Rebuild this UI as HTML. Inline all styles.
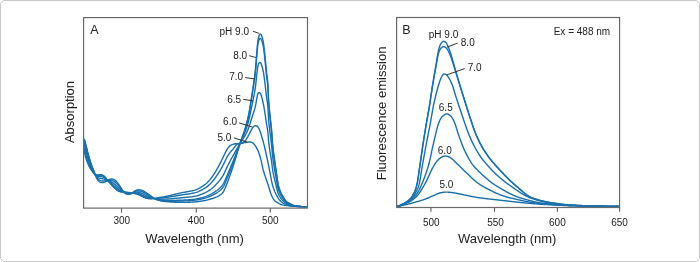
<!DOCTYPE html>
<html><head><meta charset="utf-8"><style>
html,body{margin:0;padding:0;background:#fff;}
body{width:700px;height:262px;overflow:hidden;font-family:"Liberation Sans",sans-serif;}
svg{display:block;will-change:transform;}
</style></head><body>
<svg width="700" height="262" viewBox="0 0 700 262">
<path d="M3.5 0.5 H696.5 L699.5 3.5 V258.5 L696.5 261.5 H3.5 L0.5 258.5 V3.5 Z" fill="#fff" stroke="#c9c9c9" stroke-width="1"/>
<g fill="none" stroke="#1870ac" stroke-width="1.4" stroke-linejoin="round">
<path d="M84.05 150.23 L84.17 150.81 L84.34 151.56 L84.51 152.35 L84.69 153.13 L84.86 153.91 L85.04 154.68 L85.23 155.46 L85.41 156.24 L85.61 157.02 L85.81 157.79 L86.03 158.56 L86.27 159.32 L86.51 160.09 L86.77 160.84 L87.04 161.60 L87.32 162.34 L87.62 163.09 L87.93 163.82 L88.25 164.56 L88.59 165.28 L88.94 166.00 L89.30 166.72 L89.68 167.42 L90.08 168.11 L90.50 168.79 L90.94 169.46 L91.39 170.12 L91.84 170.78 L92.30 171.44 L92.76 172.09 L93.23 172.74 L93.73 173.36 L94.28 173.94 L94.82 174.49 L95.25 175.14 L95.58 175.86 L95.91 176.59 L96.24 177.32 L96.59 178.04 L96.95 178.75 L97.33 179.46 L97.75 180.13 L98.25 180.75 L98.82 181.30 L99.45 181.79 L100.14 182.20 L100.87 182.50 L101.64 182.66 L102.43 182.67 L103.22 182.54 L103.98 182.31 L104.72 182.02 L105.44 181.67 L106.15 181.29 L106.83 180.89 L107.52 180.48 L108.22 180.10 L108.94 179.75 L109.68 179.43 L110.43 179.17 L111.20 179.00 L111.99 178.96 L112.78 179.08 L113.53 179.32 L114.24 179.67 L114.92 180.10 L115.55 180.59 L116.13 181.13 L116.68 181.72 L117.19 182.33 L117.69 182.95 L118.17 183.59 L118.64 184.24 L119.10 184.89 L119.55 185.56 L119.99 186.23 L120.41 186.90 L120.83 187.59 L121.25 188.27 L121.67 188.95 L122.08 189.63 L122.51 190.31 L122.95 190.98 L123.42 191.62 L123.96 192.21 L124.55 192.74 L125.17 193.24 L125.83 193.69 L126.53 194.06 L127.29 194.31 L128.07 194.41 L128.86 194.38 L129.65 194.24 L130.41 194.00 L131.14 193.68 L131.84 193.30 L132.50 192.85 L133.13 192.36 L133.75 191.85 L134.38 191.37 L135.05 190.93 L135.75 190.56 L136.49 190.25 L137.25 190.01 L138.03 189.85 L138.82 189.79 L139.62 189.82 L140.41 189.93 L141.19 190.10 L141.95 190.34 L142.70 190.63 L143.41 190.98 L144.11 191.37 L144.79 191.79 L145.47 192.22 L146.14 192.65 L146.81 193.08 L147.48 193.53 L148.13 193.98 L148.79 194.45 L149.44 194.92 L150.08 195.39 L150.72 195.87 L151.36 196.35 L152.00 196.83 L152.63 197.32 L153.27 197.79 L153.94 198.19 L154.68 198.33 L155.46 198.24 L156.25 198.10 L157.03 197.94 L157.82 197.80 L158.60 197.65 L159.39 197.51 L160.18 197.37 L160.97 197.24 L161.76 197.12 L162.55 197.00 L163.34 196.88 L164.13 196.75 L164.92 196.61 L165.70 196.46 L166.49 196.30 L167.27 196.13 L168.05 195.96 L168.83 195.78 L169.61 195.60 L170.39 195.42 L171.17 195.23 L171.94 195.04 L172.72 194.85 L173.50 194.66 L174.28 194.47 L175.05 194.28 L175.83 194.09 L176.61 193.90 L177.38 193.71 L178.16 193.53 L178.94 193.34 L179.72 193.16 L180.50 192.99 L181.28 192.83 L182.07 192.67 L182.85 192.51 L183.64 192.37 L184.43 192.22 L185.21 192.08 L186.00 191.94 L186.79 191.80 L187.58 191.66 L188.36 191.52 L189.15 191.37 L189.94 191.22 L190.72 191.07 L191.51 190.91 L192.29 190.75 L193.07 190.57 L193.85 190.39 L194.62 190.19 L195.39 189.97 L196.15 189.72 L196.89 189.42 L197.62 189.09 L198.33 188.73 L199.04 188.35 L199.73 187.95 L200.41 187.53 L201.09 187.11 L201.76 186.67 L202.43 186.23 L203.10 185.79 L203.76 185.35 L204.43 184.91 L205.08 184.44 L205.71 183.95 L206.32 183.44 L206.92 182.90 L207.50 182.35 L208.07 181.79 L208.62 181.21 L209.17 180.63 L209.70 180.03 L210.22 179.43 L210.73 178.81 L211.23 178.18 L211.71 177.54 L212.18 176.89 L212.63 176.24 L213.08 175.57 L213.52 174.90 L213.95 174.23 L214.37 173.55 L214.79 172.87 L215.21 172.19 L215.61 171.50 L216.02 170.81 L216.42 170.12 L216.82 169.42 L217.21 168.73 L217.61 168.03 L218.00 167.33 L218.39 166.63 L218.78 165.94 L219.17 165.24 L219.55 164.53 L219.92 163.83 L220.29 163.11 L220.64 162.40 L220.99 161.68 L221.34 160.96 L221.68 160.23 L222.02 159.51 L222.36 158.79 L222.70 158.06 L223.05 157.34 L223.40 156.62 L223.75 155.90 L224.11 155.19 L224.47 154.47 L224.82 153.75 L225.17 153.04 L225.52 152.32 L225.88 151.60 L226.24 150.89 L226.61 150.18 L227.01 149.48 L227.43 148.81 L227.90 148.16 L228.40 147.54 L228.93 146.94 L229.49 146.36 L230.07 145.82 L230.69 145.32 L231.37 144.91 L232.10 144.59 L232.86 144.35 L233.64 144.14 L234.41 143.96 L235.20 143.81 L235.99 143.72 L236.79 143.66 L237.59 143.63 L238.39 143.61 L239.19 143.57 L239.98 143.49 L240.78 143.38 L241.56 143.25 L242.35 143.10 L243.14 142.95 L243.92 142.80 L244.71 142.65 L245.50 142.51 L246.28 142.38 L247.07 142.24 L247.86 142.12 L248.65 142.01 L249.45 141.94 L250.24 141.97 L251.01 142.14 L251.76 142.42 L252.48 142.76 L253.16 143.17 L253.75 143.70 L254.26 144.31 L254.74 144.95 L255.20 145.60 L255.65 146.26 L256.07 146.95 L256.46 147.64 L256.84 148.34 L257.21 149.06 L257.56 149.77 L257.90 150.50 L258.22 151.23 L258.52 151.97 L258.80 152.72 L259.07 153.48 L259.32 154.23 L259.56 155.00 L259.80 155.76 L260.03 156.53 L260.25 157.30 L260.47 158.07 L260.68 158.84 L260.89 159.61 L261.09 160.38 L261.28 161.16 L261.46 161.94 L261.63 162.72 L261.79 163.51 L261.95 164.29 L262.11 165.07 L262.27 165.86 L262.43 166.64 L262.60 167.42 L262.77 168.20 L262.95 168.98 L263.15 169.76 L263.36 170.53 L263.58 171.30 L263.80 172.07 L264.04 172.83 L264.28 173.59 L264.52 174.36 L264.77 175.12 L265.03 175.87 L265.29 176.63 L265.55 177.39 L265.82 178.14 L266.08 178.90 L266.35 179.65 L266.62 180.40 L266.89 181.16 L267.15 181.91 L267.41 182.67 L267.67 183.42 L267.93 184.18 L268.18 184.94 L268.42 185.71 L268.66 186.47 L268.89 187.24 L269.12 188.00 L269.34 188.77 L269.57 189.54 L269.80 190.30 L270.03 191.07 L270.27 191.83 L270.51 192.59 L270.77 193.35 L271.05 194.10 L271.35 194.84 L271.66 195.58 L271.99 196.31 L272.34 197.03 L272.69 197.75 L273.07 198.45 L273.47 199.14 L273.91 199.80 L274.42 200.42 L275.00 200.96 L275.65 201.43 L276.31 201.88 L276.98 202.31 L277.66 202.74 L278.34 203.15 L279.04 203.54 L279.75 203.91 L280.48 204.24 L281.22 204.53 L281.98 204.77 L282.76 204.94 L283.55 205.08 L284.34 205.20 L285.13 205.31 L285.92 205.43 L286.72 205.55 L287.51 205.66 L288.30 205.77 L289.09 205.88 L289.89 205.98 L290.68 206.07 L291.48 206.15 L292.27 206.23 L293.07 206.29 L293.87 206.34 L294.67 206.38 L295.47 206.41 L296.27 206.44 L297.07 206.47 L297.87 206.49 L298.67 206.52 L299.47 206.54 L300.27 206.56 L301.07 206.58 L301.86 206.60 L302.66 206.62 L303.46 206.63 L304.26 206.63 L305.06 206.64 L305.86 206.63 L306.64 206.63 L307.23 206.62"/>
<path d="M84.09 147.80 L84.21 148.31 L84.38 148.99 L84.56 149.75 L84.75 150.52 L84.93 151.30 L85.12 152.08 L85.31 152.86 L85.50 153.63 L85.70 154.41 L85.91 155.18 L86.12 155.95 L86.35 156.72 L86.59 157.48 L86.83 158.25 L87.08 159.01 L87.33 159.76 L87.60 160.52 L87.87 161.27 L88.16 162.02 L88.45 162.76 L88.75 163.50 L89.06 164.24 L89.39 164.97 L89.72 165.70 L90.07 166.42 L90.43 167.13 L90.80 167.84 L91.18 168.54 L91.58 169.24 L91.97 169.93 L92.38 170.62 L92.79 171.31 L93.21 171.99 L93.65 172.66 L94.10 173.32 L94.56 173.97 L95.00 174.63 L95.41 175.32 L95.81 176.01 L96.21 176.70 L96.63 177.38 L97.07 178.05 L97.55 178.67 L98.10 179.24 L98.73 179.72 L99.41 180.12 L100.13 180.44 L100.88 180.69 L101.66 180.85 L102.45 180.93 L103.24 180.93 L104.04 180.89 L104.84 180.82 L105.63 180.73 L106.42 180.61 L107.21 180.49 L108.00 180.37 L108.80 180.27 L109.59 180.21 L110.39 180.20 L111.17 180.27 L111.95 180.43 L112.69 180.69 L113.41 181.03 L114.10 181.43 L114.76 181.88 L115.39 182.37 L115.99 182.89 L116.56 183.45 L117.11 184.03 L117.64 184.63 L118.16 185.23 L118.68 185.84 L119.19 186.45 L119.70 187.08 L120.19 187.70 L120.68 188.34 L121.17 188.97 L121.66 189.60 L122.16 190.23 L122.67 190.84 L123.22 191.42 L123.80 191.96 L124.43 192.45 L125.09 192.89 L125.78 193.28 L126.51 193.59 L127.26 193.81 L128.04 193.93 L128.84 193.94 L129.63 193.87 L130.41 193.73 L131.17 193.51 L131.91 193.22 L132.62 192.87 L133.31 192.47 L134.00 192.07 L134.71 191.71 L135.44 191.40 L136.20 191.17 L136.98 191.01 L137.77 190.93 L138.56 190.92 L139.35 191.00 L140.14 191.14 L140.91 191.34 L141.67 191.59 L142.41 191.88 L143.14 192.21 L143.85 192.57 L144.55 192.96 L145.24 193.35 L145.94 193.75 L146.63 194.14 L147.33 194.54 L148.02 194.94 L148.72 195.34 L149.41 195.74 L150.10 196.14 L150.79 196.54 L151.48 196.94 L152.18 197.34 L152.87 197.73 L153.59 198.06 L154.33 198.29 L155.10 198.38 L155.89 198.39 L156.69 198.35 L157.48 198.30 L158.28 198.25 L159.08 198.19 L159.88 198.13 L160.68 198.07 L161.47 198.01 L162.27 197.95 L163.07 197.89 L163.86 197.82 L164.66 197.73 L165.45 197.64 L166.25 197.53 L167.04 197.42 L167.83 197.30 L168.62 197.18 L169.41 197.05 L170.20 196.92 L170.99 196.78 L171.78 196.65 L172.56 196.51 L173.35 196.37 L174.14 196.23 L174.93 196.08 L175.71 195.94 L176.50 195.80 L177.29 195.66 L178.08 195.52 L178.86 195.38 L179.65 195.24 L180.44 195.11 L181.23 194.98 L182.02 194.86 L182.81 194.74 L183.60 194.63 L184.40 194.52 L185.19 194.40 L185.98 194.29 L186.77 194.18 L187.56 194.06 L188.36 193.95 L189.15 193.82 L189.94 193.70 L190.73 193.57 L191.51 193.43 L192.30 193.29 L193.09 193.14 L193.87 192.98 L194.65 192.81 L195.43 192.62 L196.20 192.40 L196.96 192.15 L197.70 191.87 L198.44 191.56 L199.17 191.23 L199.89 190.88 L200.60 190.52 L201.31 190.15 L202.02 189.77 L202.72 189.39 L203.42 189.00 L204.11 188.61 L204.80 188.20 L205.48 187.78 L206.14 187.33 L206.78 186.85 L207.41 186.36 L208.03 185.85 L208.63 185.33 L209.23 184.79 L209.81 184.25 L210.38 183.69 L210.94 183.12 L211.49 182.53 L212.02 181.93 L212.54 181.32 L213.04 180.71 L213.54 180.08 L214.03 179.45 L214.52 178.81 L214.99 178.17 L215.46 177.52 L215.93 176.87 L216.39 176.21 L216.84 175.56 L217.29 174.90 L217.74 174.23 L218.18 173.57 L218.62 172.90 L219.06 172.23 L219.49 171.55 L219.91 170.87 L220.32 170.18 L220.72 169.49 L221.11 168.80 L221.50 168.10 L221.88 167.39 L222.26 166.69 L222.64 165.98 L223.01 165.27 L223.38 164.56 L223.74 163.85 L224.09 163.13 L224.45 162.42 L224.79 161.70 L225.14 160.97 L225.48 160.25 L225.82 159.53 L226.17 158.81 L226.52 158.09 L226.89 157.38 L227.27 156.68 L227.67 155.98 L228.09 155.30 L228.53 154.63 L228.98 153.97 L229.43 153.31 L229.90 152.67 L230.39 152.03 L230.90 151.42 L231.43 150.82 L231.97 150.23 L232.52 149.65 L233.04 149.05 L233.55 148.43 L234.04 147.80 L234.52 147.16 L235.02 146.53 L235.53 145.92 L236.07 145.34 L236.66 144.81 L237.31 144.36 L238.01 143.99 L238.75 143.72 L239.52 143.51 L240.29 143.31 L241.06 143.10 L241.82 142.86 L242.57 142.58 L243.30 142.26 L243.99 141.88 L244.63 141.42 L245.20 140.88 L245.70 140.26 L246.13 139.60 L246.54 138.91 L246.93 138.22 L247.32 137.52 L247.71 136.82 L248.09 136.12 L248.47 135.41 L248.84 134.70 L249.20 133.99 L249.57 133.28 L249.94 132.57 L250.31 131.86 L250.69 131.15 L251.06 130.45 L251.44 129.74 L251.83 129.05 L252.25 128.36 L252.69 127.70 L253.18 127.08 L253.73 126.50 L254.34 126.02 L255.01 125.70 L255.73 125.59 L256.45 125.74 L257.11 126.09 L257.70 126.59 L258.19 127.20 L258.60 127.87 L258.96 128.59 L259.29 129.31 L259.60 130.05 L259.89 130.79 L260.16 131.54 L260.42 132.30 L260.67 133.06 L260.91 133.83 L261.14 134.59 L261.37 135.36 L261.59 136.13 L261.82 136.89 L262.05 137.66 L262.28 138.43 L262.50 139.19 L262.72 139.96 L262.95 140.73 L263.16 141.50 L263.38 142.27 L263.58 143.04 L263.79 143.82 L263.99 144.59 L264.19 145.37 L264.38 146.14 L264.57 146.92 L264.75 147.70 L264.93 148.48 L265.11 149.26 L265.28 150.04 L265.46 150.82 L265.63 151.60 L265.80 152.38 L265.97 153.17 L266.14 153.95 L266.31 154.73 L266.48 155.51 L266.65 156.29 L266.82 157.08 L266.98 157.86 L267.15 158.64 L267.32 159.42 L267.48 160.21 L267.65 160.99 L267.81 161.77 L267.97 162.56 L268.13 163.34 L268.30 164.12 L268.46 164.91 L268.62 165.69 L268.78 166.47 L268.94 167.26 L269.10 168.04 L269.26 168.82 L269.42 169.61 L269.57 170.39 L269.73 171.18 L269.88 171.96 L270.03 172.75 L270.18 173.54 L270.32 174.32 L270.47 175.11 L270.61 175.90 L270.75 176.68 L270.90 177.47 L271.05 178.26 L271.19 179.04 L271.35 179.83 L271.50 180.61 L271.66 181.40 L271.83 182.18 L272.00 182.96 L272.19 183.74 L272.39 184.51 L272.60 185.28 L272.82 186.05 L273.06 186.82 L273.30 187.58 L273.55 188.34 L273.82 189.09 L274.09 189.84 L274.38 190.59 L274.67 191.33 L274.98 192.07 L275.31 192.80 L275.65 193.52 L276.01 194.24 L276.38 194.95 L276.76 195.65 L277.15 196.35 L277.54 197.05 L277.94 197.74 L278.36 198.42 L278.80 199.09 L279.28 199.72 L279.80 200.32 L280.37 200.88 L280.96 201.42 L281.58 201.93 L282.21 202.41 L282.86 202.87 L283.54 203.29 L284.25 203.65 L284.99 203.95 L285.74 204.21 L286.51 204.44 L287.27 204.67 L288.04 204.89 L288.81 205.10 L289.59 205.31 L290.36 205.51 L291.14 205.69 L291.92 205.85 L292.71 205.99 L293.50 206.12 L294.29 206.22 L295.09 206.30 L295.89 206.36 L296.68 206.42 L297.48 206.47 L298.28 206.52 L299.08 206.56 L299.88 206.60 L300.68 206.63 L301.48 206.66 L302.28 206.68 L303.08 206.70 L303.88 206.70 L304.68 206.70 L305.47 206.69 L306.22 206.67 L306.85 206.65"/>
<path d="M84.11 144.40 L84.24 144.91 L84.43 145.59 L84.63 146.34 L84.83 147.11 L85.03 147.88 L85.23 148.66 L85.42 149.44 L85.62 150.21 L85.81 150.99 L86.02 151.76 L86.23 152.53 L86.44 153.30 L86.66 154.07 L86.88 154.84 L87.11 155.61 L87.33 156.38 L87.57 157.14 L87.81 157.91 L88.05 158.67 L88.30 159.43 L88.56 160.18 L88.82 160.94 L89.09 161.69 L89.37 162.44 L89.65 163.19 L89.94 163.94 L90.24 164.68 L90.55 165.42 L90.87 166.15 L91.19 166.88 L91.52 167.61 L91.86 168.34 L92.20 169.06 L92.56 169.77 L92.92 170.49 L93.29 171.20 L93.66 171.91 L94.03 172.62 L94.40 173.32 L94.79 174.02 L95.21 174.69 L95.68 175.34 L96.19 175.95 L96.73 176.54 L97.32 177.07 L97.96 177.50 L98.67 177.83 L99.43 178.07 L100.20 178.26 L100.98 178.43 L101.76 178.59 L102.55 178.75 L103.33 178.93 L104.10 179.14 L104.86 179.37 L105.62 179.64 L106.36 179.92 L107.11 180.20 L107.86 180.49 L108.61 180.77 L109.36 181.05 L110.10 181.35 L110.83 181.67 L111.54 182.03 L112.23 182.44 L112.89 182.88 L113.54 183.34 L114.18 183.83 L114.80 184.33 L115.42 184.84 L116.02 185.36 L116.61 185.90 L117.19 186.45 L117.78 187.00 L118.36 187.54 L118.95 188.08 L119.55 188.62 L120.14 189.15 L120.74 189.68 L121.35 190.21 L121.97 190.71 L122.61 191.19 L123.27 191.62 L123.96 192.02 L124.67 192.39 L125.40 192.71 L126.15 192.98 L126.92 193.19 L127.70 193.34 L128.49 193.42 L129.29 193.46 L130.09 193.45 L130.88 193.39 L131.67 193.28 L132.44 193.09 L133.20 192.86 L133.96 192.60 L134.72 192.39 L135.50 192.24 L136.29 192.17 L137.09 192.17 L137.88 192.23 L138.67 192.36 L139.44 192.54 L140.21 192.77 L140.96 193.03 L141.71 193.32 L142.44 193.64 L143.17 193.97 L143.88 194.33 L144.59 194.70 L145.31 195.06 L146.03 195.40 L146.75 195.73 L147.49 196.05 L148.23 196.36 L148.97 196.66 L149.71 196.95 L150.46 197.23 L151.21 197.50 L151.97 197.77 L152.73 198.02 L153.49 198.25 L154.27 198.44 L155.05 198.58 L155.84 198.70 L156.64 198.79 L157.43 198.87 L158.23 198.94 L159.03 199.00 L159.83 199.05 L160.62 199.09 L161.42 199.12 L162.22 199.14 L163.02 199.16 L163.82 199.16 L164.62 199.15 L165.42 199.12 L166.22 199.08 L167.02 199.04 L167.82 198.99 L168.62 198.94 L169.41 198.88 L170.21 198.83 L171.01 198.76 L171.81 198.70 L172.60 198.63 L173.40 198.56 L174.20 198.48 L174.99 198.40 L175.79 198.32 L176.59 198.24 L177.38 198.17 L178.18 198.09 L178.97 198.01 L179.77 197.93 L180.57 197.86 L181.36 197.78 L182.16 197.71 L182.96 197.64 L183.75 197.57 L184.55 197.50 L185.35 197.43 L186.14 197.36 L186.94 197.28 L187.74 197.20 L188.53 197.11 L189.33 197.02 L190.12 196.92 L190.91 196.82 L191.71 196.72 L192.50 196.60 L193.29 196.49 L194.08 196.37 L194.87 196.23 L195.66 196.08 L196.44 195.91 L197.21 195.72 L197.98 195.50 L198.74 195.26 L199.50 195.01 L200.25 194.74 L201.00 194.45 L201.75 194.16 L202.49 193.86 L203.23 193.56 L203.97 193.25 L204.70 192.94 L205.43 192.60 L206.14 192.24 L206.84 191.86 L207.53 191.45 L208.21 191.03 L208.88 190.59 L209.54 190.14 L210.20 189.68 L210.84 189.21 L211.47 188.72 L212.09 188.21 L212.70 187.69 L213.29 187.16 L213.88 186.61 L214.46 186.06 L215.03 185.51 L215.60 184.94 L216.16 184.37 L216.71 183.79 L217.26 183.21 L217.79 182.61 L218.32 182.01 L218.84 181.40 L219.35 180.79 L219.85 180.16 L220.34 179.53 L220.81 178.88 L221.27 178.23 L221.73 177.57 L222.17 176.91 L222.60 176.23 L223.02 175.55 L223.41 174.85 L223.78 174.15 L224.14 173.43 L224.49 172.71 L224.82 171.98 L225.15 171.26 L225.48 170.53 L225.81 169.79 L226.13 169.07 L226.47 168.34 L226.80 167.61 L227.15 166.89 L227.50 166.17 L227.85 165.45 L228.21 164.74 L228.57 164.03 L228.94 163.31 L229.30 162.60 L229.67 161.89 L230.04 161.18 L230.41 160.47 L230.78 159.77 L231.17 159.06 L231.56 158.36 L231.95 157.67 L232.35 156.98 L232.75 156.28 L233.15 155.59 L233.56 154.90 L233.95 154.21 L234.35 153.51 L234.74 152.81 L235.13 152.11 L235.52 151.41 L235.91 150.71 L236.29 150.01 L236.68 149.32 L237.07 148.62 L237.46 147.92 L237.85 147.22 L238.25 146.53 L238.65 145.83 L239.04 145.14 L239.45 144.45 L239.85 143.76 L240.27 143.07 L240.69 142.39 L241.12 141.72 L241.55 141.04 L241.99 140.37 L242.43 139.71 L242.86 139.04 L243.30 138.36 L243.72 137.69 L244.14 137.00 L244.55 136.32 L244.95 135.62 L245.33 134.92 L245.71 134.22 L246.08 133.51 L246.44 132.79 L246.79 132.07 L247.13 131.35 L247.46 130.62 L247.79 129.89 L248.10 129.16 L248.40 128.42 L248.69 127.67 L248.97 126.92 L249.23 126.16 L249.48 125.40 L249.73 124.64 L249.96 123.88 L250.20 123.11 L250.44 122.35 L250.67 121.59 L250.91 120.82 L251.16 120.06 L251.40 119.30 L251.65 118.54 L251.89 117.78 L252.13 117.01 L252.37 116.25 L252.61 115.49 L252.85 114.72 L253.09 113.96 L253.34 113.20 L253.58 112.44 L253.83 111.68 L254.08 110.92 L254.33 110.16 L254.57 109.39 L254.80 108.63 L255.01 107.86 L255.21 107.08 L255.40 106.30 L255.56 105.52 L255.71 104.74 L255.86 103.95 L255.99 103.16 L256.13 102.37 L256.26 101.58 L256.39 100.80 L256.53 100.01 L256.67 99.22 L256.81 98.43 L256.95 97.65 L257.10 96.86 L257.25 96.07 L257.42 95.29 L257.62 94.52 L257.88 93.79 L258.24 93.14 L258.73 92.70 L259.31 92.59 L259.86 92.85 L260.32 93.39 L260.69 94.07 L261.00 94.80 L261.26 95.55 L261.50 96.32 L261.72 97.09 L261.93 97.86 L262.12 98.63 L262.31 99.41 L262.50 100.19 L262.69 100.97 L262.87 101.74 L263.05 102.52 L263.22 103.31 L263.38 104.09 L263.54 104.87 L263.69 105.66 L263.83 106.45 L263.97 107.23 L264.11 108.02 L264.24 108.81 L264.37 109.60 L264.50 110.39 L264.63 111.18 L264.76 111.97 L264.88 112.76 L265.01 113.55 L265.13 114.34 L265.24 115.13 L265.36 115.92 L265.47 116.72 L265.58 117.51 L265.70 118.30 L265.81 119.09 L265.92 119.88 L266.03 120.68 L266.15 121.47 L266.27 122.26 L266.39 123.05 L266.52 123.84 L266.65 124.63 L266.80 125.41 L266.94 126.20 L267.09 126.99 L267.23 127.77 L267.37 128.56 L267.50 129.35 L267.63 130.14 L267.74 130.93 L267.85 131.72 L267.95 132.52 L268.03 133.31 L268.09 134.11 L268.15 134.91 L268.20 135.71 L268.25 136.51 L268.30 137.30 L268.36 138.10 L268.41 138.90 L268.47 139.70 L268.54 140.49 L268.62 141.29 L268.71 142.09 L268.80 142.88 L268.89 143.68 L268.98 144.47 L269.09 145.26 L269.19 146.06 L269.31 146.85 L269.42 147.64 L269.54 148.43 L269.66 149.22 L269.78 150.01 L269.90 150.80 L270.02 151.59 L270.14 152.38 L270.27 153.17 L270.40 153.96 L270.52 154.75 L270.65 155.54 L270.78 156.33 L270.92 157.12 L271.04 157.91 L271.17 158.70 L271.30 159.49 L271.42 160.28 L271.53 161.07 L271.64 161.87 L271.75 162.66 L271.85 163.45 L271.95 164.25 L272.04 165.04 L272.14 165.84 L272.23 166.63 L272.32 167.42 L272.42 168.22 L272.53 169.01 L272.64 169.80 L272.77 170.59 L272.89 171.38 L273.03 172.17 L273.18 172.96 L273.33 173.74 L273.49 174.53 L273.65 175.31 L273.82 176.09 L273.99 176.87 L274.17 177.65 L274.35 178.43 L274.53 179.21 L274.71 179.99 L274.90 180.77 L275.09 181.55 L275.28 182.32 L275.47 183.10 L275.66 183.88 L275.86 184.65 L276.05 185.43 L276.25 186.20 L276.44 186.98 L276.63 187.76 L276.82 188.53 L277.01 189.31 L277.21 190.09 L277.41 190.86 L277.63 191.63 L277.86 192.39 L278.13 193.15 L278.42 193.89 L278.74 194.62 L279.08 195.34 L279.45 196.05 L279.84 196.75 L280.26 197.43 L280.71 198.09 L281.19 198.73 L281.70 199.34 L282.25 199.92 L282.82 200.48 L283.40 201.04 L283.98 201.58 L284.59 202.10 L285.21 202.60 L285.87 203.05 L286.55 203.45 L287.27 203.79 L288.01 204.09 L288.76 204.37 L289.51 204.64 L290.27 204.90 L291.03 205.15 L291.80 205.38 L292.57 205.58 L293.35 205.77 L294.13 205.93 L294.92 206.06 L295.71 206.16 L296.51 206.25 L297.30 206.32 L298.10 206.38 L298.90 206.45 L299.70 206.50 L300.49 206.55 L301.29 206.60 L302.09 206.64 L302.89 206.67 L303.69 206.69 L304.49 206.70 L305.29 206.69 L306.05 206.68 L306.72 206.66"/>
<path d="M84.12 141.52 L84.27 142.02 L84.48 142.70 L84.70 143.44 L84.91 144.21 L85.12 144.98 L85.32 145.76 L85.51 146.53 L85.71 147.31 L85.90 148.09 L86.10 148.86 L86.30 149.64 L86.51 150.41 L86.71 151.18 L86.92 151.96 L87.13 152.73 L87.33 153.50 L87.54 154.27 L87.76 155.04 L87.98 155.81 L88.20 156.58 L88.43 157.35 L88.66 158.11 L88.90 158.88 L89.14 159.64 L89.39 160.40 L89.64 161.16 L89.90 161.92 L90.16 162.67 L90.43 163.43 L90.70 164.18 L90.98 164.93 L91.27 165.67 L91.56 166.42 L91.86 167.16 L92.17 167.90 L92.48 168.63 L92.81 169.36 L93.14 170.09 L93.47 170.82 L93.79 171.55 L94.11 172.29 L94.42 173.02 L94.76 173.73 L95.18 174.39 L95.70 174.95 L96.32 175.43 L96.99 175.82 L97.72 176.10 L98.48 176.26 L99.27 176.32 L100.06 176.38 L100.85 176.48 L101.63 176.63 L102.40 176.85 L103.14 177.14 L103.85 177.49 L104.53 177.91 L105.18 178.37 L105.81 178.86 L106.42 179.37 L107.03 179.89 L107.64 180.40 L108.27 180.90 L108.90 181.40 L109.53 181.88 L110.16 182.37 L110.79 182.87 L111.41 183.37 L112.02 183.89 L112.62 184.42 L113.21 184.96 L113.81 185.49 L114.40 186.03 L115.00 186.55 L115.61 187.08 L116.22 187.60 L116.83 188.12 L117.45 188.62 L118.08 189.10 L118.74 189.56 L119.41 189.99 L120.10 190.40 L120.80 190.78 L121.52 191.13 L122.25 191.43 L123.01 191.69 L123.77 191.92 L124.54 192.15 L125.30 192.38 L126.08 192.57 L126.86 192.74 L127.65 192.86 L128.44 192.97 L129.23 193.07 L130.03 193.15 L130.82 193.22 L131.62 193.24 L132.41 193.21 L133.21 193.13 L134.00 193.03 L134.79 192.96 L135.58 192.97 L136.38 193.04 L137.16 193.17 L137.94 193.35 L138.70 193.58 L139.46 193.84 L140.20 194.14 L140.94 194.45 L141.67 194.77 L142.40 195.10 L143.12 195.44 L143.84 195.79 L144.56 196.13 L145.29 196.46 L146.03 196.76 L146.78 197.03 L147.55 197.27 L148.31 197.49 L149.09 197.69 L149.87 197.86 L150.66 198.01 L151.44 198.15 L152.23 198.27 L153.03 198.38 L153.81 198.50 L154.60 198.65 L155.38 198.84 L156.15 199.04 L156.92 199.23 L157.70 199.42 L158.48 199.58 L159.27 199.73 L160.06 199.86 L160.85 199.97 L161.64 200.08 L162.44 200.17 L163.23 200.25 L164.03 200.31 L164.83 200.35 L165.63 200.38 L166.43 200.40 L167.23 200.42 L168.03 200.43 L168.83 200.44 L169.63 200.44 L170.43 200.44 L171.23 200.44 L172.03 200.44 L172.83 200.43 L173.63 200.41 L174.43 200.39 L175.23 200.37 L176.03 200.35 L176.83 200.32 L177.63 200.30 L178.43 200.27 L179.23 200.25 L180.03 200.22 L180.83 200.19 L181.63 200.17 L182.42 200.14 L183.22 200.11 L184.02 200.07 L184.82 200.04 L185.62 200.00 L186.42 199.96 L187.22 199.91 L188.02 199.85 L188.81 199.79 L189.61 199.72 L190.41 199.65 L191.21 199.58 L192.00 199.50 L192.80 199.41 L193.59 199.33 L194.39 199.23 L195.18 199.14 L195.97 199.03 L196.76 198.90 L197.55 198.76 L198.33 198.61 L199.11 198.43 L199.89 198.25 L200.67 198.05 L201.44 197.84 L202.21 197.63 L202.98 197.41 L203.75 197.19 L204.52 196.96 L205.28 196.71 L206.03 196.45 L206.78 196.16 L207.52 195.85 L208.25 195.53 L208.97 195.20 L209.70 194.85 L210.41 194.50 L211.12 194.13 L211.82 193.75 L212.52 193.35 L213.21 192.94 L213.89 192.52 L214.56 192.09 L215.23 191.65 L215.89 191.20 L216.54 190.74 L217.18 190.26 L217.81 189.76 L218.43 189.25 L219.03 188.72 L219.61 188.18 L220.18 187.62 L220.74 187.05 L221.28 186.46 L221.81 185.86 L222.31 185.24 L222.79 184.60 L223.22 183.93 L223.62 183.24 L223.99 182.53 L224.34 181.81 L224.68 181.08 L225.00 180.35 L225.32 179.62 L225.63 178.88 L225.94 178.15 L226.26 177.41 L226.58 176.68 L226.89 175.94 L227.21 175.21 L227.53 174.48 L227.85 173.74 L228.16 173.01 L228.48 172.27 L228.79 171.53 L229.10 170.80 L229.41 170.06 L229.72 169.32 L230.02 168.58 L230.33 167.84 L230.63 167.10 L230.94 166.36 L231.25 165.62 L231.55 164.89 L231.86 164.15 L232.17 163.41 L232.48 162.67 L232.78 161.93 L233.09 161.19 L233.40 160.45 L233.70 159.71 L234.00 158.97 L234.30 158.23 L234.59 157.48 L234.88 156.74 L235.17 155.99 L235.46 155.25 L235.74 154.50 L236.03 153.75 L236.31 153.00 L236.60 152.26 L236.88 151.51 L237.16 150.76 L237.45 150.01 L237.73 149.26 L238.02 148.52 L238.31 147.77 L238.60 147.03 L238.89 146.28 L239.18 145.54 L239.48 144.79 L239.78 144.05 L240.08 143.31 L240.40 142.58 L240.71 141.84 L241.04 141.11 L241.37 140.38 L241.70 139.65 L242.04 138.93 L242.37 138.20 L242.71 137.48 L243.04 136.75 L243.37 136.02 L243.69 135.29 L244.01 134.55 L244.32 133.82 L244.62 133.08 L244.92 132.33 L245.21 131.59 L245.50 130.84 L245.77 130.09 L246.05 129.34 L246.31 128.58 L246.57 127.83 L246.83 127.07 L247.07 126.31 L247.32 125.55 L247.56 124.78 L247.79 124.02 L248.02 123.25 L248.24 122.48 L248.45 121.71 L248.66 120.94 L248.86 120.16 L249.05 119.39 L249.23 118.61 L249.41 117.83 L249.58 117.05 L249.75 116.26 L249.91 115.48 L250.07 114.70 L250.23 113.91 L250.39 113.13 L250.55 112.35 L250.71 111.56 L250.88 110.78 L251.04 109.99 L251.20 109.21 L251.37 108.43 L251.53 107.65 L251.69 106.86 L251.85 106.08 L252.02 105.30 L252.18 104.51 L252.34 103.73 L252.49 102.94 L252.65 102.16 L252.81 101.38 L252.97 100.59 L253.12 99.81 L253.28 99.02 L253.43 98.24 L253.59 97.45 L253.75 96.67 L253.91 95.88 L254.06 95.10 L254.22 94.31 L254.37 93.53 L254.52 92.74 L254.66 91.96 L254.80 91.17 L254.93 90.38 L255.06 89.59 L255.18 88.80 L255.30 88.01 L255.42 87.22 L255.52 86.42 L255.62 85.63 L255.71 84.83 L255.79 84.04 L255.88 83.24 L255.97 82.45 L256.05 81.65 L256.13 80.86 L256.21 80.06 L256.29 79.27 L256.38 78.47 L256.46 77.67 L256.54 76.88 L256.63 76.08 L256.72 75.29 L256.81 74.49 L256.89 73.70 L256.98 72.90 L257.07 72.11 L257.16 71.31 L257.25 70.52 L257.35 69.72 L257.44 68.93 L257.56 68.14 L257.68 67.35 L257.82 66.56 L257.99 65.78 L258.19 65.01 L258.44 64.25 L258.75 63.53 L259.13 62.91 L259.61 62.53 L260.13 62.52 L260.61 62.90 L261.01 63.51 L261.33 64.22 L261.61 64.97 L261.85 65.73 L262.08 66.50 L262.29 67.27 L262.49 68.05 L262.69 68.82 L262.88 69.60 L263.05 70.38 L263.21 71.16 L263.36 71.95 L263.50 72.74 L263.63 73.53 L263.75 74.32 L263.87 75.11 L263.98 75.90 L264.10 76.69 L264.21 77.48 L264.31 78.28 L264.42 79.07 L264.52 79.86 L264.63 80.65 L264.73 81.45 L264.84 82.24 L264.94 83.04 L265.03 83.83 L265.13 84.62 L265.22 85.42 L265.31 86.21 L265.40 87.01 L265.49 87.80 L265.58 88.60 L265.66 89.39 L265.75 90.19 L265.84 90.98 L265.92 91.78 L266.01 92.57 L266.10 93.37 L266.19 94.16 L266.29 94.96 L266.38 95.75 L266.48 96.55 L266.59 97.34 L266.71 98.13 L266.82 98.92 L266.94 99.71 L267.06 100.50 L267.18 101.30 L267.30 102.09 L267.41 102.88 L267.52 103.67 L267.62 104.47 L267.71 105.26 L267.80 106.05 L267.88 106.85 L267.96 107.65 L268.02 108.44 L268.06 109.24 L268.10 110.04 L268.14 110.84 L268.18 111.64 L268.22 112.44 L268.26 113.24 L268.30 114.04 L268.33 114.84 L268.37 115.63 L268.41 116.43 L268.45 117.23 L268.50 118.03 L268.55 118.83 L268.62 119.63 L268.68 120.42 L268.75 121.22 L268.82 122.02 L268.89 122.81 L268.97 123.61 L269.04 124.41 L269.13 125.20 L269.22 126.00 L269.31 126.79 L269.40 127.59 L269.50 128.38 L269.59 129.18 L269.69 129.97 L269.79 130.76 L269.89 131.56 L269.99 132.35 L270.09 133.14 L270.19 133.94 L270.29 134.73 L270.39 135.53 L270.49 136.32 L270.60 137.11 L270.70 137.91 L270.81 138.70 L270.91 139.49 L271.02 140.28 L271.12 141.08 L271.22 141.87 L271.31 142.67 L271.41 143.46 L271.50 144.26 L271.58 145.05 L271.66 145.85 L271.74 146.64 L271.81 147.44 L271.89 148.24 L271.96 149.03 L272.03 149.83 L272.10 150.63 L272.17 151.42 L272.24 152.22 L272.31 153.02 L272.38 153.81 L272.45 154.61 L272.53 155.41 L272.61 156.20 L272.71 157.00 L272.80 157.79 L272.90 158.59 L273.00 159.38 L273.11 160.17 L273.23 160.96 L273.34 161.75 L273.46 162.54 L273.59 163.34 L273.72 164.12 L273.85 164.91 L273.98 165.70 L274.11 166.49 L274.25 167.28 L274.38 168.07 L274.52 168.86 L274.65 169.65 L274.79 170.43 L274.92 171.22 L275.06 172.01 L275.20 172.80 L275.34 173.59 L275.47 174.38 L275.62 175.16 L275.76 175.95 L275.90 176.74 L276.04 177.52 L276.18 178.31 L276.32 179.10 L276.46 179.89 L276.59 180.68 L276.73 181.46 L276.87 182.25 L277.01 183.04 L277.15 183.83 L277.29 184.62 L277.44 185.40 L277.60 186.19 L277.76 186.97 L277.94 187.75 L278.15 188.52 L278.37 189.29 L278.61 190.05 L278.87 190.81 L279.14 191.56 L279.43 192.31 L279.73 193.05 L280.05 193.78 L280.39 194.50 L280.76 195.21 L281.15 195.91 L281.57 196.58 L282.02 197.25 L282.49 197.90 L282.96 198.54 L283.44 199.18 L283.93 199.81 L284.44 200.43 L284.96 201.03 L285.51 201.61 L286.11 202.13 L286.75 202.60 L287.43 203.01 L288.14 203.37 L288.86 203.72 L289.59 204.06 L290.32 204.39 L291.05 204.70 L291.80 204.99 L292.55 205.26 L293.31 205.50 L294.08 205.71 L294.86 205.89 L295.65 206.03 L296.44 206.14 L297.23 206.23 L298.03 206.32 L298.82 206.40 L299.62 206.47 L300.42 206.54 L301.21 206.60 L302.01 206.65 L302.81 206.69 L303.61 206.71 L304.41 206.73 L305.21 206.73 L305.97 206.71 L306.64 206.69"/>
<path d="M84.11 139.20 L84.29 139.72 L84.52 140.42 L84.76 141.18 L84.98 141.95 L85.19 142.72 L85.39 143.49 L85.59 144.27 L85.78 145.05 L85.97 145.82 L86.16 146.60 L86.36 147.37 L86.55 148.15 L86.75 148.93 L86.94 149.70 L87.14 150.48 L87.33 151.25 L87.53 152.03 L87.73 152.80 L87.93 153.58 L88.14 154.35 L88.35 155.12 L88.56 155.89 L88.78 156.66 L89.00 157.43 L89.22 158.20 L89.45 158.97 L89.68 159.73 L89.92 160.50 L90.16 161.26 L90.41 162.02 L90.65 162.78 L90.91 163.54 L91.16 164.30 L91.43 165.05 L91.70 165.81 L91.97 166.56 L92.26 167.30 L92.56 168.05 L92.86 168.79 L93.17 169.53 L93.47 170.26 L93.77 171.01 L94.05 171.76 L94.33 172.51 L94.60 173.25 L94.92 173.95 L95.39 174.50 L96.05 174.86 L96.79 175.08 L97.57 175.18 L98.35 175.13 L99.13 175.01 L99.92 174.92 L100.71 174.93 L101.49 175.05 L102.25 175.29 L102.96 175.63 L103.63 176.06 L104.25 176.56 L104.83 177.10 L105.38 177.69 L105.90 178.29 L106.41 178.90 L106.91 179.53 L107.42 180.15 L107.94 180.75 L108.47 181.35 L109.01 181.94 L109.56 182.52 L110.11 183.10 L110.66 183.68 L111.21 184.26 L111.76 184.85 L112.30 185.43 L112.85 186.02 L113.40 186.60 L113.95 187.18 L114.53 187.73 L115.12 188.27 L115.72 188.80 L116.34 189.31 L116.97 189.80 L117.62 190.25 L118.31 190.66 L119.03 191.01 L119.77 191.30 L120.53 191.54 L121.30 191.72 L122.09 191.83 L122.88 191.87 L123.67 191.91 L124.46 192.01 L125.25 192.14 L126.04 192.27 L126.83 192.39 L127.62 192.49 L128.41 192.61 L129.20 192.75 L129.98 192.91 L130.77 193.07 L131.55 193.22 L132.34 193.31 L133.14 193.34 L133.94 193.35 L134.73 193.40 L135.52 193.51 L136.30 193.69 L137.07 193.91 L137.82 194.17 L138.57 194.46 L139.30 194.78 L140.02 195.12 L140.75 195.46 L141.47 195.81 L142.19 196.15 L142.91 196.50 L143.63 196.85 L144.36 197.19 L145.09 197.50 L145.84 197.77 L146.61 198.00 L147.38 198.19 L148.17 198.33 L148.96 198.45 L149.75 198.52 L150.55 198.57 L151.35 198.59 L152.15 198.59 L152.95 198.58 L153.74 198.60 L154.52 198.72 L155.28 198.95 L156.02 199.22 L156.77 199.50 L157.53 199.77 L158.29 200.02 L159.06 200.24 L159.83 200.44 L160.61 200.61 L161.39 200.77 L162.18 200.91 L162.97 201.03 L163.77 201.13 L164.56 201.20 L165.36 201.25 L166.16 201.29 L166.96 201.31 L167.76 201.33 L168.56 201.34 L169.36 201.34 L170.16 201.34 L170.96 201.33 L171.76 201.31 L172.56 201.29 L173.36 201.26 L174.16 201.23 L174.96 201.19 L175.75 201.15 L176.55 201.12 L177.35 201.08 L178.15 201.05 L178.95 201.03 L179.75 201.01 L180.55 201.00 L181.35 200.99 L182.15 200.97 L182.95 200.96 L183.75 200.94 L184.55 200.92 L185.35 200.89 L186.15 200.86 L186.95 200.83 L187.75 200.78 L188.55 200.73 L189.34 200.68 L190.14 200.62 L190.94 200.55 L191.74 200.48 L192.53 200.41 L193.33 200.33 L194.13 200.26 L194.92 200.17 L195.72 200.09 L196.51 199.99 L197.30 199.87 L198.09 199.74 L198.88 199.60 L199.66 199.45 L200.45 199.28 L201.23 199.11 L202.01 198.92 L202.78 198.74 L203.56 198.54 L204.34 198.35 L205.11 198.14 L205.87 197.92 L206.63 197.67 L207.39 197.40 L208.14 197.12 L208.88 196.82 L209.62 196.52 L210.36 196.22 L211.09 195.90 L211.82 195.56 L212.54 195.22 L213.26 194.86 L213.97 194.49 L214.67 194.11 L215.37 193.72 L216.07 193.33 L216.75 192.91 L217.42 192.48 L218.08 192.02 L218.72 191.54 L219.34 191.04 L219.95 190.52 L220.54 189.99 L221.12 189.43 L221.68 188.86 L222.22 188.27 L222.72 187.65 L223.18 187.00 L223.59 186.32 L223.96 185.61 L224.31 184.89 L224.64 184.16 L224.96 183.43 L225.27 182.69 L225.58 181.95 L225.89 181.22 L226.20 180.48 L226.51 179.74 L226.83 179.01 L227.14 178.27 L227.45 177.53 L227.75 176.79 L228.06 176.05 L228.36 175.31 L228.66 174.57 L228.97 173.83 L229.27 173.09 L229.57 172.35 L229.87 171.61 L230.17 170.87 L230.47 170.13 L230.78 169.38 L231.08 168.64 L231.38 167.90 L231.68 167.16 L231.98 166.42 L232.28 165.68 L232.57 164.93 L232.87 164.19 L233.17 163.45 L233.46 162.70 L233.75 161.96 L234.03 161.21 L234.31 160.46 L234.59 159.71 L234.86 158.96 L235.13 158.20 L235.39 157.45 L235.65 156.69 L235.91 155.93 L236.17 155.18 L236.42 154.42 L236.67 153.66 L236.92 152.90 L237.17 152.14 L237.42 151.38 L237.67 150.62 L237.91 149.86 L238.16 149.10 L238.41 148.33 L238.65 147.57 L238.90 146.81 L239.15 146.05 L239.40 145.29 L239.65 144.53 L239.91 143.78 L240.17 143.02 L240.43 142.26 L240.70 141.51 L240.97 140.76 L241.24 140.00 L241.52 139.25 L241.80 138.50 L242.08 137.76 L242.36 137.01 L242.64 136.26 L242.92 135.51 L243.20 134.76 L243.47 134.00 L243.74 133.25 L244.01 132.50 L244.26 131.74 L244.52 130.98 L244.77 130.22 L245.01 129.46 L245.25 128.70 L245.48 127.93 L245.71 127.16 L245.94 126.40 L246.16 125.63 L246.38 124.86 L246.59 124.09 L246.80 123.32 L247.01 122.54 L247.21 121.77 L247.41 120.99 L247.60 120.22 L247.79 119.44 L247.97 118.66 L248.16 117.88 L248.34 117.10 L248.51 116.32 L248.68 115.54 L248.84 114.76 L249.00 113.97 L249.15 113.19 L249.29 112.40 L249.43 111.61 L249.57 110.82 L249.70 110.03 L249.83 109.25 L249.97 108.46 L250.10 107.67 L250.22 106.88 L250.35 106.09 L250.48 105.30 L250.61 104.51 L250.73 103.72 L250.86 102.93 L250.99 102.14 L251.12 101.35 L251.25 100.56 L251.38 99.77 L251.51 98.98 L251.64 98.19 L251.77 97.40 L251.90 96.61 L252.02 95.82 L252.15 95.03 L252.28 94.24 L252.40 93.45 L252.53 92.66 L252.65 91.87 L252.77 91.08 L252.90 90.29 L253.02 89.50 L253.14 88.71 L253.26 87.92 L253.39 87.13 L253.51 86.34 L253.63 85.55 L253.75 84.76 L253.87 83.97 L253.99 83.18 L254.11 82.38 L254.23 81.59 L254.35 80.80 L254.46 80.01 L254.57 79.22 L254.68 78.42 L254.79 77.63 L254.89 76.84 L254.99 76.05 L255.09 75.25 L255.18 74.46 L255.27 73.66 L255.36 72.87 L255.45 72.07 L255.53 71.28 L255.60 70.48 L255.67 69.68 L255.74 68.89 L255.80 68.09 L255.87 67.29 L255.94 66.49 L256.00 65.70 L256.07 64.90 L256.13 64.10 L256.19 63.30 L256.26 62.51 L256.32 61.71 L256.38 60.91 L256.44 60.11 L256.51 59.32 L256.58 58.52 L256.64 57.72 L256.71 56.92 L256.78 56.13 L256.85 55.33 L256.91 54.53 L256.98 53.74 L257.05 52.94 L257.12 52.14 L257.19 51.35 L257.26 50.55 L257.33 49.75 L257.40 48.95 L257.47 48.16 L257.56 47.36 L257.66 46.57 L257.76 45.78 L257.86 44.98 L257.98 44.19 L258.12 43.40 L258.29 42.62 L258.47 41.85 L258.68 41.07 L258.90 40.31 L259.17 39.56 L259.52 38.89 L259.98 38.48 L260.51 38.52 L260.99 38.98 L261.36 39.65 L261.67 40.39 L261.94 41.14 L262.18 41.90 L262.40 42.67 L262.61 43.44 L262.81 44.22 L262.99 44.99 L263.15 45.78 L263.29 46.57 L263.42 47.35 L263.55 48.14 L263.66 48.94 L263.77 49.73 L263.87 50.52 L263.98 51.32 L264.08 52.11 L264.17 52.90 L264.26 53.70 L264.36 54.49 L264.45 55.29 L264.54 56.08 L264.63 56.88 L264.72 57.67 L264.81 58.47 L264.90 59.26 L264.99 60.06 L265.07 60.85 L265.15 61.65 L265.23 62.44 L265.31 63.24 L265.38 64.04 L265.46 64.83 L265.54 65.63 L265.61 66.43 L265.68 67.22 L265.75 68.02 L265.83 68.82 L265.90 69.61 L265.97 70.41 L266.05 71.21 L266.13 72.00 L266.21 72.80 L266.29 73.59 L266.37 74.39 L266.45 75.19 L266.55 75.98 L266.65 76.77 L266.75 77.57 L266.85 78.36 L266.96 79.15 L267.06 79.95 L267.17 80.74 L267.27 81.53 L267.37 82.33 L267.47 83.12 L267.56 83.92 L267.64 84.71 L267.71 85.51 L267.79 86.30 L267.87 87.10 L267.94 87.90 L268.00 88.69 L268.04 89.49 L268.07 90.29 L268.10 91.09 L268.13 91.89 L268.17 92.69 L268.20 93.49 L268.23 94.29 L268.26 95.09 L268.29 95.89 L268.32 96.69 L268.36 97.49 L268.39 98.29 L268.42 99.09 L268.45 99.89 L268.49 100.68 L268.53 101.48 L268.58 102.28 L268.64 103.08 L268.70 103.88 L268.76 104.68 L268.82 105.47 L268.87 106.27 L268.93 107.07 L269.00 107.87 L269.07 108.66 L269.15 109.46 L269.23 110.25 L269.30 111.05 L269.38 111.85 L269.46 112.64 L269.55 113.44 L269.63 114.23 L269.72 115.03 L269.80 115.83 L269.89 116.62 L269.97 117.42 L270.06 118.21 L270.15 119.01 L270.24 119.80 L270.33 120.60 L270.42 121.39 L270.50 122.19 L270.60 122.98 L270.69 123.78 L270.78 124.57 L270.87 125.37 L270.96 126.16 L271.05 126.96 L271.13 127.75 L271.22 128.55 L271.30 129.34 L271.38 130.14 L271.46 130.93 L271.54 131.73 L271.60 132.53 L271.67 133.33 L271.73 134.12 L271.79 134.92 L271.86 135.72 L271.92 136.52 L271.98 137.31 L272.04 138.11 L272.10 138.91 L272.15 139.71 L272.21 140.50 L272.27 141.30 L272.32 142.10 L272.38 142.90 L272.44 143.70 L272.50 144.49 L272.57 145.29 L272.65 146.09 L272.73 146.88 L272.81 147.68 L272.89 148.47 L272.97 149.27 L273.06 150.07 L273.16 150.86 L273.26 151.65 L273.36 152.45 L273.46 153.24 L273.56 154.03 L273.67 154.83 L273.78 155.62 L273.89 156.41 L274.00 157.20 L274.11 158.00 L274.22 158.79 L274.34 159.58 L274.45 160.37 L274.56 161.16 L274.68 161.96 L274.79 162.75 L274.90 163.54 L275.01 164.33 L275.12 165.12 L275.24 165.92 L275.35 166.71 L275.47 167.50 L275.58 168.29 L275.70 169.08 L275.82 169.87 L275.93 170.67 L276.05 171.46 L276.16 172.25 L276.28 173.04 L276.39 173.83 L276.51 174.62 L276.62 175.42 L276.73 176.21 L276.84 177.00 L276.95 177.79 L277.07 178.58 L277.18 179.38 L277.30 180.17 L277.42 180.96 L277.55 181.75 L277.68 182.54 L277.82 183.32 L277.98 184.11 L278.15 184.89 L278.33 185.67 L278.53 186.44 L278.75 187.21 L278.97 187.98 L279.21 188.75 L279.45 189.51 L279.71 190.26 L279.98 191.02 L280.27 191.76 L280.57 192.50 L280.90 193.23 L281.25 193.95 L281.62 194.66 L282.02 195.35 L282.43 196.04 L282.85 196.72 L283.26 197.40 L283.69 198.08 L284.12 198.76 L284.56 199.42 L285.02 200.07 L285.52 200.70 L286.05 201.29 L286.65 201.81 L287.30 202.27 L287.98 202.69 L288.67 203.09 L289.37 203.47 L290.08 203.85 L290.79 204.22 L291.51 204.57 L292.24 204.89 L292.98 205.19 L293.73 205.46 L294.50 205.68 L295.28 205.87 L296.06 206.01 L296.85 206.13 L297.65 206.23 L298.44 206.33 L299.24 206.42 L300.03 206.50 L300.83 206.57 L301.63 206.64 L302.42 206.69 L303.22 206.73 L304.02 206.75 L304.82 206.76 L305.62 206.75 L306.38 206.72 L306.99 206.68"/>
<path d="M84.08 138.72 L84.28 139.27 L84.53 140.01 L84.78 140.77 L85.00 141.54 L85.21 142.31 L85.41 143.08 L85.60 143.86 L85.79 144.64 L85.98 145.42 L86.17 146.19 L86.37 146.97 L86.56 147.74 L86.76 148.52 L86.95 149.30 L87.14 150.07 L87.33 150.85 L87.53 151.63 L87.72 152.40 L87.92 153.18 L88.12 153.95 L88.33 154.72 L88.54 155.49 L88.76 156.27 L88.98 157.03 L89.20 157.80 L89.42 158.57 L89.65 159.34 L89.88 160.10 L90.12 160.87 L90.36 161.63 L90.60 162.39 L90.85 163.15 L91.10 163.91 L91.36 164.67 L91.62 165.43 L91.89 166.18 L92.17 166.93 L92.46 167.67 L92.76 168.42 L93.06 169.16 L93.37 169.90 L93.66 170.64 L93.95 171.39 L94.22 172.14 L94.48 172.90 L94.74 173.64 L95.10 174.29 L95.70 174.70 L96.45 174.92 L97.23 175.04 L98.01 175.01 L98.79 174.84 L99.57 174.68 L100.36 174.61 L101.15 174.68 L101.92 174.87 L102.65 175.18 L103.33 175.59 L103.96 176.07 L104.55 176.62 L105.09 177.20 L105.61 177.81 L106.11 178.43 L106.60 179.07 L107.08 179.71 L107.57 180.34 L108.08 180.95 L108.61 181.56 L109.14 182.16 L109.67 182.75 L110.21 183.35 L110.75 183.94 L111.28 184.53 L111.82 185.12 L112.35 185.72 L112.88 186.32 L113.43 186.91 L113.98 187.49 L114.55 188.05 L115.14 188.59 L115.74 189.11 L116.36 189.62 L116.99 190.11 L117.65 190.55 L118.35 190.95 L119.08 191.27 L119.83 191.53 L120.60 191.73 L121.39 191.87 L122.18 191.93 L122.98 191.90 L123.77 191.90 L124.55 191.99 L125.34 192.12 L126.13 192.24 L126.93 192.34 L127.72 192.43 L128.51 192.55 L129.30 192.71 L130.08 192.89 L130.85 193.07 L131.64 193.24 L132.43 193.35 L133.22 193.39 L134.02 193.40 L134.82 193.47 L135.60 193.62 L136.37 193.82 L137.13 194.06 L137.89 194.34 L138.62 194.65 L139.35 194.98 L140.07 195.33 L140.79 195.68 L141.51 196.03 L142.23 196.38 L142.95 196.72 L143.67 197.08 L144.39 197.41 L145.13 197.73 L145.88 197.99 L146.65 198.20 L147.43 198.37 L148.22 198.51 L149.02 198.60 L149.81 198.66 L150.61 198.68 L151.41 198.68 L152.21 198.65 L153.01 198.60 L153.80 198.59 L154.58 198.71 L155.32 198.98 L156.06 199.28 L156.81 199.58 L157.56 199.86 L158.31 200.12 L159.08 200.35 L159.85 200.56 L160.63 200.74 L161.41 200.91 L162.19 201.07 L162.98 201.22 L163.77 201.35 L164.56 201.45 L165.36 201.53 L166.16 201.60 L166.95 201.67 L167.75 201.74 L168.55 201.80 L169.34 201.87 L170.14 201.93 L170.94 201.98 L171.74 202.04 L172.54 202.08 L173.34 202.13 L174.13 202.16 L174.93 202.20 L175.73 202.22 L176.53 202.25 L177.33 202.28 L178.13 202.30 L178.93 202.32 L179.73 202.34 L180.53 202.36 L181.33 202.37 L182.13 202.39 L182.93 202.39 L183.73 202.40 L184.53 202.40 L185.33 202.40 L186.13 202.38 L186.93 202.36 L187.73 202.34 L188.53 202.30 L189.33 202.26 L190.13 202.22 L190.93 202.17 L191.72 202.11 L192.52 202.06 L193.32 202.00 L194.12 201.94 L194.92 201.88 L195.71 201.82 L196.51 201.76 L197.31 201.68 L198.10 201.59 L198.90 201.50 L199.69 201.39 L200.48 201.27 L201.27 201.15 L202.06 201.02 L202.85 200.89 L203.64 200.75 L204.42 200.60 L205.21 200.45 L205.99 200.29 L206.77 200.10 L207.54 199.90 L208.31 199.68 L209.08 199.46 L209.85 199.24 L210.62 199.02 L211.39 198.79 L212.15 198.55 L212.91 198.30 L213.67 198.04 L214.42 197.77 L215.17 197.50 L215.92 197.22 L216.66 196.92 L217.39 196.59 L218.10 196.22 L218.79 195.82 L219.47 195.40 L220.13 194.94 L220.77 194.46 L221.39 193.96 L222.00 193.44 L222.56 192.88 L223.07 192.26 L223.50 191.59 L223.88 190.89 L224.23 190.17 L224.56 189.44 L224.88 188.71 L225.18 187.97 L225.49 187.23 L225.79 186.49 L226.09 185.75 L226.40 185.01 L226.70 184.27 L227.00 183.53 L227.30 182.78 L227.59 182.04 L227.88 181.29 L228.16 180.54 L228.44 179.80 L228.72 179.04 L228.99 178.29 L229.26 177.54 L229.53 176.79 L229.79 176.03 L230.06 175.28 L230.32 174.52 L230.58 173.76 L230.84 173.01 L231.10 172.25 L231.35 171.49 L231.61 170.73 L231.86 169.97 L232.11 169.22 L232.36 168.46 L232.61 167.70 L232.86 166.94 L233.11 166.18 L233.36 165.42 L233.61 164.66 L233.86 163.89 L234.10 163.13 L234.34 162.37 L234.57 161.60 L234.81 160.84 L235.04 160.07 L235.27 159.31 L235.50 158.54 L235.73 157.77 L235.96 157.01 L236.18 156.24 L236.41 155.47 L236.63 154.70 L236.86 153.94 L237.08 153.17 L237.31 152.40 L237.53 151.63 L237.76 150.87 L237.98 150.10 L238.21 149.33 L238.44 148.56 L238.67 147.80 L238.90 147.03 L239.13 146.27 L239.37 145.50 L239.61 144.74 L239.85 143.98 L240.10 143.22 L240.35 142.46 L240.60 141.70 L240.86 140.94 L241.13 140.19 L241.39 139.43 L241.66 138.68 L241.94 137.93 L242.21 137.18 L242.49 136.42 L242.76 135.67 L243.03 134.92 L243.30 134.17 L243.57 133.41 L243.83 132.66 L244.08 131.90 L244.33 131.14 L244.58 130.38 L244.82 129.61 L245.05 128.85 L245.28 128.08 L245.51 127.32 L245.73 126.55 L245.95 125.78 L246.17 125.01 L246.38 124.24 L246.58 123.46 L246.79 122.69 L246.99 121.91 L247.18 121.14 L247.37 120.36 L247.56 119.58 L247.75 118.81 L247.93 118.03 L248.10 117.25 L248.28 116.47 L248.45 115.68 L248.61 114.90 L248.77 114.12 L248.93 113.33 L249.07 112.55 L249.21 111.76 L249.35 110.97 L249.49 110.18 L249.62 109.39 L249.75 108.60 L249.88 107.81 L250.00 107.02 L250.13 106.23 L250.25 105.44 L250.37 104.65 L250.49 103.86 L250.62 103.07 L250.74 102.28 L250.87 101.49 L250.99 100.70 L251.11 99.91 L251.24 99.12 L251.37 98.33 L251.49 97.54 L251.61 96.75 L251.74 95.96 L251.86 95.17 L251.99 94.38 L252.11 93.59 L252.23 92.80 L252.35 92.01 L252.47 91.22 L252.59 90.42 L252.71 89.63 L252.83 88.84 L252.95 88.05 L253.07 87.26 L253.18 86.47 L253.30 85.68 L253.42 84.89 L253.53 84.09 L253.65 83.30 L253.77 82.51 L253.88 81.72 L254.00 80.93 L254.11 80.14 L254.23 79.34 L254.34 78.55 L254.45 77.76 L254.56 76.97 L254.66 76.17 L254.76 75.38 L254.86 74.59 L254.96 73.79 L255.06 73.00 L255.15 72.20 L255.23 71.41 L255.32 70.61 L255.41 69.82 L255.49 69.02 L255.56 68.23 L255.63 67.43 L255.69 66.63 L255.76 65.83 L255.82 65.04 L255.89 64.24 L255.95 63.44 L256.01 62.64 L256.07 61.85 L256.13 61.05 L256.19 60.25 L256.25 59.45 L256.31 58.66 L256.37 57.86 L256.44 57.06 L256.50 56.26 L256.56 55.46 L256.62 54.67 L256.69 53.87 L256.75 53.07 L256.82 52.28 L256.89 51.48 L256.95 50.68 L257.02 49.88 L257.08 49.09 L257.15 48.29 L257.21 47.49 L257.28 46.69 L257.35 45.90 L257.41 45.10 L257.49 44.30 L257.57 43.51 L257.67 42.71 L257.76 41.92 L257.86 41.13 L257.97 40.33 L258.10 39.55 L258.27 38.76 L258.44 37.98 L258.63 37.20 L258.83 36.43 L259.06 35.67 L259.34 34.92 L259.72 34.27 L260.25 33.99 L260.80 34.29 L261.23 34.92 L261.56 35.64 L261.84 36.39 L262.10 37.15 L262.33 37.91 L262.55 38.68 L262.75 39.46 L262.94 40.23 L263.10 41.02 L263.24 41.80 L263.38 42.59 L263.51 43.38 L263.62 44.17 L263.72 44.97 L263.83 45.76 L263.93 46.55 L264.03 47.35 L264.13 48.14 L264.22 48.94 L264.31 49.73 L264.40 50.53 L264.49 51.32 L264.58 52.12 L264.67 52.91 L264.76 53.71 L264.84 54.50 L264.93 55.30 L265.01 56.09 L265.09 56.89 L265.17 57.68 L265.24 58.48 L265.32 59.28 L265.40 60.07 L265.47 60.87 L265.54 61.67 L265.62 62.46 L265.69 63.26 L265.76 64.06 L265.83 64.85 L265.90 65.65 L265.97 66.45 L266.04 67.24 L266.12 68.04 L266.20 68.84 L266.28 69.63 L266.36 70.43 L266.44 71.23 L266.52 72.02 L266.62 72.81 L266.72 73.61 L266.82 74.40 L266.92 75.19 L267.03 75.99 L267.13 76.78 L267.23 77.58 L267.33 78.37 L267.43 79.16 L267.52 79.96 L267.60 80.75 L267.68 81.55 L267.75 82.35 L267.83 83.14 L267.90 83.94 L267.97 84.74 L268.02 85.53 L268.05 86.33 L268.08 87.13 L268.11 87.93 L268.14 88.73 L268.17 89.53 L268.20 90.33 L268.23 91.13 L268.27 91.93 L268.30 92.73 L268.33 93.53 L268.36 94.33 L268.39 95.13 L268.42 95.93 L268.45 96.73 L268.48 97.53 L268.52 98.32 L268.57 99.12 L268.63 99.92 L268.69 100.72 L268.74 101.52 L268.80 102.31 L268.86 103.11 L268.92 103.91 L268.97 104.71 L269.04 105.51 L269.12 106.30 L269.19 107.10 L269.27 107.89 L269.35 108.69 L269.43 109.49 L269.51 110.28 L269.59 111.08 L269.67 111.87 L269.75 112.67 L269.84 113.47 L269.92 114.26 L270.01 115.06 L270.09 115.85 L270.18 116.65 L270.27 117.44 L270.35 118.24 L270.44 119.03 L270.53 119.83 L270.62 120.62 L270.70 121.42 L270.79 122.21 L270.88 123.01 L270.97 123.80 L271.06 124.60 L271.14 125.39 L271.22 126.19 L271.30 126.99 L271.38 127.78 L271.46 128.58 L271.53 129.37 L271.60 130.17 L271.66 130.97 L271.72 131.77 L271.78 132.57 L271.84 133.36 L271.90 134.16 L271.97 134.96 L272.02 135.76 L272.08 136.55 L272.13 137.35 L272.19 138.15 L272.24 138.95 L272.30 139.75 L272.35 140.54 L272.41 141.34 L272.46 142.14 L272.53 142.94 L272.60 143.73 L272.68 144.53 L272.76 145.33 L272.83 146.12 L272.91 146.92 L273.00 147.72 L273.09 148.51 L273.18 149.30 L273.28 150.10 L273.37 150.89 L273.47 151.69 L273.57 152.48 L273.68 153.27 L273.79 154.07 L273.89 154.86 L274.00 155.65 L274.11 156.44 L274.22 157.24 L274.33 158.03 L274.44 158.82 L274.55 159.61 L274.66 160.41 L274.76 161.20 L274.87 161.99 L274.98 162.78 L275.09 163.58 L275.20 164.37 L275.31 165.16 L275.42 165.95 L275.53 166.75 L275.65 167.54 L275.76 168.33 L275.87 169.12 L275.99 169.91 L276.10 170.71 L276.21 171.50 L276.32 172.29 L276.43 173.08 L276.54 173.88 L276.65 174.67 L276.75 175.46 L276.86 176.25 L276.97 177.05 L277.08 177.84 L277.20 178.63 L277.31 179.42 L277.43 180.21 L277.55 181.00 L277.68 181.79 L277.82 182.58 L277.96 183.37 L278.12 184.15 L278.30 184.93 L278.50 185.71 L278.70 186.48 L278.92 187.25 L279.15 188.02 L279.38 188.78 L279.63 189.54 L279.89 190.30 L280.16 191.05 L280.45 191.80 L280.76 192.53 L281.09 193.26 L281.44 193.98 L281.83 194.68 L282.23 195.37 L282.63 196.06 L283.04 196.75 L283.45 197.44 L283.86 198.12 L284.29 198.80 L284.72 199.47 L285.19 200.12 L285.68 200.75 L286.22 201.33 L286.83 201.85 L287.50 202.29 L288.18 202.70 L288.87 203.10 L289.57 203.50 L290.27 203.88 L290.98 204.25 L291.70 204.60 L292.43 204.93 L293.17 205.23 L293.92 205.50 L294.69 205.72 L295.47 205.90 L296.26 206.03 L297.05 206.14 L297.84 206.25 L298.64 206.34 L299.43 206.44 L300.23 206.52 L301.02 206.59 L301.82 206.66 L302.62 206.71 L303.42 206.74 L304.22 206.76 L305.02 206.76 L305.82 206.75 L306.59 206.71 L307.18 206.68"/>
<path d="M397.00 206.50 L397.50 206.36 L398.00 206.19 L398.50 206.02 L399.00 205.83 L399.50 205.63 L400.00 205.41 L400.50 205.19 L401.00 204.96 L401.50 204.73 L402.00 204.49 L402.50 204.24 L403.00 204.00 L403.50 203.74 L404.00 203.46 L404.50 203.17 L405.00 202.85 L405.50 202.52 L406.00 202.19 L406.50 201.84 L407.00 201.50 L407.50 201.14 L408.00 200.76 L408.50 200.36 L409.00 199.93 L409.50 199.48 L410.00 199.01 L410.50 198.52 L411.00 198.00 L411.50 197.40 L412.00 196.66 L412.50 195.82 L413.00 194.91 L413.50 193.96 L414.00 193.00 L414.50 191.97 L415.00 190.79 L415.50 189.43 L416.00 187.89 L416.50 186.15 L417.00 184.16 L417.50 181.65 L418.00 178.67 L418.50 175.38 L419.00 171.90 L419.50 168.40 L420.00 165.00 L420.50 161.63 L421.00 158.16 L421.50 154.64 L422.00 151.12 L422.50 147.67 L423.00 144.35 L423.50 141.10 L424.00 137.91 L424.50 134.77 L425.00 131.67 L425.50 128.62 L426.00 125.60 L426.50 122.65 L427.00 119.80 L427.50 117.02 L428.00 114.25 L428.50 111.46 L429.00 108.59 L429.50 105.61 L430.00 102.46 L430.50 99.14 L431.00 95.71 L431.50 92.27 L432.00 88.88 L432.50 85.63 L433.00 82.53 L433.50 79.52 L434.00 76.57 L434.50 73.67 L435.00 70.78 L435.50 67.90 L436.00 65.00 L436.50 61.95 L437.00 58.76 L437.50 55.63 L438.00 52.78 L438.50 50.40 L439.00 48.51 L439.50 46.84 L440.00 45.42 L440.50 44.29 L441.00 43.50 L441.50 42.89 L442.00 42.30 L442.50 41.80 L443.00 41.45 L443.50 41.30 L444.00 41.36 L444.50 41.57 L445.00 41.89 L445.50 42.31 L446.00 42.80 L446.50 43.41 L447.00 44.21 L447.50 45.17 L448.00 46.26 L448.50 47.44 L449.00 48.70 L449.50 50.00 L450.00 51.38 L450.50 52.89 L451.00 54.51 L451.50 56.20 L452.00 57.94 L452.50 59.72 L453.00 61.51 L453.50 63.27 L454.00 65.00 L454.50 66.71 L455.00 68.43 L455.50 70.16 L456.00 71.90 L456.50 73.65 L457.00 75.39 L457.50 77.14 L458.00 78.87 L458.50 80.60 L459.00 82.30 L459.50 84.00 L460.00 85.66 L460.50 87.31 L461.00 88.93 L461.50 90.53 L462.00 92.13 L462.50 93.72 L463.00 95.32 L463.50 96.93 L464.00 98.54 L464.50 100.15 L465.00 101.76 L465.50 103.38 L466.00 104.98 L466.50 106.58 L467.00 108.17 L467.50 109.75 L468.00 111.32 L468.50 112.87 L469.00 114.39 L469.50 115.91 L470.00 117.43 L470.50 118.96 L471.00 120.49 L471.50 122.01 L472.00 123.53 L472.50 125.03 L473.00 126.50 L473.50 127.94 L474.00 129.35 L474.50 130.72 L475.00 132.05 L475.50 133.32 L476.00 134.53 L476.50 135.69 L477.00 136.82 L477.50 137.93 L478.00 139.01 L478.50 140.07 L479.00 141.10 L479.50 142.12 L480.00 143.10 L480.50 144.07 L481.00 145.01 L481.50 145.93 L482.00 146.82 L482.50 147.69 L483.00 148.54 L483.50 149.36 L484.00 150.16 L484.50 150.94 L485.00 151.71 L485.50 152.48 L486.00 153.23 L486.50 153.96 L487.00 154.69 L487.50 155.40 L488.00 156.10 L488.50 156.79 L489.00 157.46 L489.50 158.12 L490.00 158.76 L490.50 159.39 L491.00 160.00 L491.50 160.60 L492.00 161.20 L492.50 161.79 L493.00 162.38 L493.50 162.96 L494.00 163.54 L494.50 164.12 L495.00 164.69 L495.50 165.26 L496.00 165.82 L496.50 166.38 L497.00 166.94 L497.50 167.49 L498.00 168.04 L498.50 168.59 L499.00 169.13 L499.50 169.67 L500.00 170.20 L500.50 170.74 L501.00 171.27 L501.50 171.79 L502.00 172.32 L502.50 172.84 L503.00 173.36 L503.50 173.87 L504.00 174.39 L504.50 174.90 L505.00 175.41 L505.50 175.92 L506.00 176.43 L506.50 176.93 L507.00 177.44 L507.50 177.94 L508.00 178.45 L508.50 178.95 L509.00 179.44 L509.50 179.94 L510.00 180.42 L510.50 180.91 L511.00 181.39 L511.50 181.86 L512.00 182.33 L512.50 182.79 L513.00 183.25 L513.50 183.70 L514.00 184.14 L514.50 184.57 L515.00 185.00 L515.50 185.42 L516.00 185.85 L516.50 186.28 L517.00 186.72 L517.50 187.15 L518.00 187.59 L518.50 188.03 L519.00 188.47 L519.50 188.91 L520.00 189.35 L520.50 189.79 L521.00 190.22 L521.50 190.65 L522.00 191.08 L522.50 191.50 L523.00 191.92 L523.50 192.33 L524.00 192.74 L524.50 193.13 L525.00 193.53 L525.50 193.91 L526.00 194.28 L526.50 194.64 L527.00 195.00 L527.50 195.34 L528.00 195.67 L528.50 195.99 L529.00 196.29 L529.50 196.58 L530.00 196.86 L530.50 197.12 L531.00 197.37 L531.50 197.59 L532.00 197.81 L532.50 198.00 L533.00 198.18 L533.50 198.36 L534.00 198.54 L534.50 198.71 L535.00 198.88 L535.50 199.05 L536.00 199.22 L536.50 199.38 L537.00 199.53 L537.50 199.69 L538.00 199.84 L538.50 199.99 L539.00 200.13 L539.50 200.27 L540.00 200.41 L540.50 200.55 L541.00 200.68 L541.50 200.81 L542.00 200.93 L542.50 201.05 L543.00 201.17 L543.50 201.29 L544.00 201.40 L544.50 201.51 L545.00 201.62 L545.50 201.72 L546.00 201.82 L546.50 201.92 L547.00 202.01 L547.50 202.10 L548.00 202.19 L548.50 202.27 L549.00 202.35 L549.50 202.43 L550.00 202.50 L550.50 202.57 L551.00 202.65 L551.50 202.72 L552.00 202.79 L552.50 202.87 L553.00 202.94 L553.50 203.02 L554.00 203.10 L554.50 203.17 L555.00 203.25 L555.50 203.32 L556.00 203.40 L556.50 203.47 L557.00 203.55 L557.50 203.62 L558.00 203.70 L558.50 203.77 L559.00 203.84 L559.50 203.91 L560.00 203.98 L560.50 204.05 L561.00 204.12 L561.50 204.18 L562.00 204.25 L562.50 204.31 L563.00 204.37 L563.50 204.43 L564.00 204.49 L564.50 204.55 L565.00 204.60 L565.50 204.65 L566.00 204.70 L566.50 204.75 L567.00 204.79 L567.50 204.83 L568.00 204.87 L568.50 204.91 L569.00 204.94 L569.50 204.97 L570.00 205.00 L570.50 205.03 L571.00 205.05 L571.50 205.08 L572.00 205.10 L572.50 205.13 L573.00 205.15 L573.50 205.18 L574.00 205.21 L574.50 205.23 L575.00 205.26 L575.50 205.28 L576.00 205.31 L576.50 205.33 L577.00 205.36 L577.50 205.38 L578.00 205.40 L578.50 205.43 L579.00 205.45 L579.50 205.48 L580.00 205.50 L580.50 205.52 L581.00 205.55 L581.50 205.57 L582.00 205.59 L582.50 205.61 L583.00 205.64 L583.50 205.66 L584.00 205.68 L584.50 205.70 L585.00 205.72 L585.50 205.74 L586.00 205.77 L586.50 205.79 L587.00 205.81 L587.50 205.83 L588.00 205.85 L588.50 205.86 L589.00 205.88 L589.50 205.90 L590.00 205.92 L590.50 205.94 L591.00 205.96 L591.50 205.97 L592.00 205.99 L592.50 206.01 L593.00 206.02 L593.50 206.04 L594.00 206.05 L594.50 206.07 L595.00 206.08 L595.50 206.10 L596.00 206.11 L596.50 206.12 L597.00 206.13 L597.50 206.15 L598.00 206.16 L598.50 206.17 L599.00 206.18 L599.50 206.19 L600.00 206.20 L600.50 206.21 L601.00 206.22 L601.50 206.23 L602.00 206.24 L602.50 206.25 L603.00 206.26 L603.50 206.27 L604.00 206.28 L604.50 206.29 L605.00 206.30 L605.50 206.31 L606.00 206.32 L606.50 206.33 L607.00 206.34 L607.50 206.35 L608.00 206.36 L608.50 206.37 L609.00 206.38 L609.50 206.39 L610.00 206.39 L610.50 206.40 L611.00 206.41 L611.50 206.42 L612.00 206.43 L612.50 206.43 L613.00 206.44 L613.50 206.45 L614.00 206.46 L614.50 206.46 L615.00 206.47 L615.50 206.47 L616.00 206.48 L616.50 206.48 L617.00 206.49 L617.50 206.49 L618.00 206.49 L618.50 206.50 L619.00 206.50 L619.50 206.50"/>
<path d="M397.00 206.50 L397.50 206.36 L398.00 206.19 L398.50 206.02 L399.00 205.83 L399.50 205.63 L400.00 205.41 L400.50 205.19 L401.00 204.96 L401.50 204.73 L402.00 204.49 L402.50 204.24 L403.00 204.00 L403.50 203.74 L404.00 203.46 L404.50 203.17 L405.00 202.85 L405.50 202.52 L406.00 202.19 L406.50 201.84 L407.00 201.50 L407.50 201.14 L408.00 200.76 L408.50 200.36 L409.00 199.93 L409.50 199.48 L410.00 199.01 L410.50 198.52 L411.00 198.00 L411.50 197.40 L412.00 196.66 L412.50 195.82 L413.00 194.91 L413.50 193.96 L414.00 193.00 L414.50 191.97 L415.00 190.79 L415.50 189.43 L416.00 187.89 L416.50 186.15 L417.00 184.16 L417.50 181.65 L418.00 178.67 L418.50 175.38 L419.00 171.90 L419.50 168.40 L420.00 165.00 L420.50 161.63 L421.00 158.16 L421.50 154.64 L422.00 151.12 L422.50 147.67 L423.00 144.35 L423.50 141.10 L424.00 137.91 L424.50 134.77 L425.00 131.67 L425.50 128.62 L426.00 125.60 L426.50 122.66 L427.00 119.81 L427.50 117.03 L428.00 114.27 L428.50 111.49 L429.00 108.64 L429.50 105.67 L430.00 102.54 L430.50 99.25 L431.00 95.86 L431.50 92.46 L432.00 89.14 L432.50 85.96 L433.00 82.95 L433.50 80.05 L434.00 77.23 L434.50 74.48 L435.00 71.78 L435.50 69.10 L436.00 66.44 L436.50 63.66 L437.00 60.76 L437.50 57.96 L438.00 55.44 L438.50 53.41 L439.00 51.86 L439.50 50.53 L440.00 49.44 L440.50 48.62 L441.00 48.10 L441.50 47.72 L442.00 47.33 L442.50 46.98 L443.00 46.71 L443.50 46.60 L444.00 46.65 L444.50 46.81 L445.00 47.06 L445.50 47.37 L446.00 47.73 L446.50 48.20 L447.00 48.82 L447.50 49.58 L448.00 50.46 L448.50 51.42 L449.00 52.44 L449.50 53.50 L450.00 54.64 L450.50 55.91 L451.00 57.28 L451.50 58.74 L452.00 60.26 L452.50 61.82 L453.00 63.39 L453.50 64.96 L454.00 66.51 L454.50 68.04 L455.00 69.61 L455.50 71.20 L456.00 72.81 L456.50 74.43 L457.00 76.07 L457.50 77.72 L458.00 79.37 L458.50 81.02 L459.00 82.67 L459.50 84.30 L460.00 85.92 L460.50 87.52 L461.00 89.10 L461.50 90.68 L462.00 92.25 L462.50 93.82 L463.00 95.40 L463.50 96.99 L464.00 98.59 L464.50 100.19 L465.00 101.80 L465.50 103.40 L466.00 105.00 L466.50 106.60 L467.00 108.19 L467.50 109.76 L468.00 111.33 L468.50 112.87 L469.00 114.40 L469.50 115.91 L470.00 117.43 L470.50 118.96 L471.00 120.49 L471.50 122.02 L472.00 123.53 L472.50 125.03 L473.00 126.50 L473.50 127.94 L474.00 129.36 L474.50 130.73 L475.00 132.05 L475.50 133.32 L476.00 134.53 L476.50 135.69 L477.00 136.82 L477.50 137.93 L478.00 139.01 L478.50 140.07 L479.00 141.10 L479.50 142.12 L480.00 143.10 L480.50 144.07 L481.00 145.01 L481.50 145.93 L482.00 146.82 L482.50 147.69 L483.00 148.54 L483.50 149.36 L484.00 150.16 L484.50 150.94 L485.00 151.71 L485.50 152.48 L486.00 153.23 L486.50 153.96 L487.00 154.69 L487.50 155.40 L488.00 156.10 L488.50 156.79 L489.00 157.46 L489.50 158.12 L490.00 158.76 L490.50 159.39 L491.00 160.00 L491.50 160.60 L492.00 161.20 L492.50 161.79 L493.00 162.38 L493.50 162.96 L494.00 163.54 L494.50 164.12 L495.00 164.69 L495.50 165.26 L496.00 165.82 L496.50 166.38 L497.00 166.94 L497.50 167.49 L498.00 168.04 L498.50 168.59 L499.00 169.13 L499.50 169.67 L500.00 170.20 L500.50 170.74 L501.00 171.27 L501.50 171.79 L502.00 172.32 L502.50 172.84 L503.00 173.36 L503.50 173.87 L504.00 174.39 L504.50 174.90 L505.00 175.41 L505.50 175.92 L506.00 176.43 L506.50 176.93 L507.00 177.44 L507.50 177.94 L508.00 178.45 L508.50 178.95 L509.00 179.44 L509.50 179.94 L510.00 180.42 L510.50 180.91 L511.00 181.39 L511.50 181.86 L512.00 182.33 L512.50 182.79 L513.00 183.25 L513.50 183.70 L514.00 184.14 L514.50 184.57 L515.00 185.00 L515.50 185.42 L516.00 185.85 L516.50 186.28 L517.00 186.72 L517.50 187.15 L518.00 187.59 L518.50 188.03 L519.00 188.47 L519.50 188.91 L520.00 189.35 L520.50 189.79 L521.00 190.22 L521.50 190.65 L522.00 191.08 L522.50 191.50 L523.00 191.92 L523.50 192.33 L524.00 192.74 L524.50 193.13 L525.00 193.53 L525.50 193.91 L526.00 194.28 L526.50 194.64 L527.00 195.00 L527.50 195.34 L528.00 195.67 L528.50 195.99 L529.00 196.29 L529.50 196.58 L530.00 196.86 L530.50 197.12 L531.00 197.37 L531.50 197.59 L532.00 197.81 L532.50 198.00 L533.00 198.18 L533.50 198.36 L534.00 198.54 L534.50 198.71 L535.00 198.88 L535.50 199.05 L536.00 199.22 L536.50 199.38 L537.00 199.53 L537.50 199.69 L538.00 199.84 L538.50 199.99 L539.00 200.13 L539.50 200.27 L540.00 200.41 L540.50 200.55 L541.00 200.68 L541.50 200.81 L542.00 200.93 L542.50 201.05 L543.00 201.17 L543.50 201.29 L544.00 201.40 L544.50 201.51 L545.00 201.62 L545.50 201.72 L546.00 201.82 L546.50 201.92 L547.00 202.01 L547.50 202.10 L548.00 202.19 L548.50 202.27 L549.00 202.35 L549.50 202.43 L550.00 202.50 L550.50 202.57 L551.00 202.65 L551.50 202.72 L552.00 202.79 L552.50 202.87 L553.00 202.94 L553.50 203.02 L554.00 203.10 L554.50 203.17 L555.00 203.25 L555.50 203.32 L556.00 203.40 L556.50 203.47 L557.00 203.55 L557.50 203.62 L558.00 203.70 L558.50 203.77 L559.00 203.84 L559.50 203.91 L560.00 203.98 L560.50 204.05 L561.00 204.12 L561.50 204.18 L562.00 204.25 L562.50 204.31 L563.00 204.37 L563.50 204.43 L564.00 204.49 L564.50 204.55 L565.00 204.60 L565.50 204.65 L566.00 204.70 L566.50 204.75 L567.00 204.79 L567.50 204.83 L568.00 204.87 L568.50 204.91 L569.00 204.94 L569.50 204.97 L570.00 205.00 L570.50 205.03 L571.00 205.05 L571.50 205.08 L572.00 205.10 L572.50 205.13 L573.00 205.15 L573.50 205.18 L574.00 205.21 L574.50 205.23 L575.00 205.26 L575.50 205.28 L576.00 205.31 L576.50 205.33 L577.00 205.36 L577.50 205.38 L578.00 205.40 L578.50 205.43 L579.00 205.45 L579.50 205.48 L580.00 205.50 L580.50 205.52 L581.00 205.55 L581.50 205.57 L582.00 205.59 L582.50 205.61 L583.00 205.64 L583.50 205.66 L584.00 205.68 L584.50 205.70 L585.00 205.72 L585.50 205.74 L586.00 205.77 L586.50 205.79 L587.00 205.81 L587.50 205.83 L588.00 205.85 L588.50 205.86 L589.00 205.88 L589.50 205.90 L590.00 205.92 L590.50 205.94 L591.00 205.96 L591.50 205.97 L592.00 205.99 L592.50 206.01 L593.00 206.02 L593.50 206.04 L594.00 206.05 L594.50 206.07 L595.00 206.08 L595.50 206.10 L596.00 206.11 L596.50 206.12 L597.00 206.13 L597.50 206.15 L598.00 206.16 L598.50 206.17 L599.00 206.18 L599.50 206.19 L600.00 206.20 L600.50 206.21 L601.00 206.22 L601.50 206.23 L602.00 206.24 L602.50 206.25 L603.00 206.26 L603.50 206.27 L604.00 206.28 L604.50 206.29 L605.00 206.30 L605.50 206.31 L606.00 206.32 L606.50 206.33 L607.00 206.34 L607.50 206.35 L608.00 206.36 L608.50 206.37 L609.00 206.38 L609.50 206.39 L610.00 206.39 L610.50 206.40 L611.00 206.41 L611.50 206.42 L612.00 206.43 L612.50 206.43 L613.00 206.44 L613.50 206.45 L614.00 206.46 L614.50 206.46 L615.00 206.47 L615.50 206.47 L616.00 206.48 L616.50 206.48 L617.00 206.49 L617.50 206.49 L618.00 206.49 L618.50 206.50 L619.00 206.50 L619.50 206.50"/>
<path d="M397.00 206.50 L397.50 206.41 L398.00 206.30 L398.50 206.17 L399.00 206.03 L399.50 205.86 L400.00 205.68 L400.50 205.49 L401.00 205.29 L401.50 205.08 L402.00 204.86 L402.50 204.64 L403.00 204.41 L403.50 204.18 L404.00 203.95 L404.50 203.72 L405.00 203.50 L405.50 203.27 L406.00 203.01 L406.50 202.73 L407.00 202.43 L407.50 202.12 L408.00 201.78 L408.50 201.43 L409.00 201.05 L409.50 200.67 L410.00 200.26 L410.50 199.84 L411.00 199.41 L411.50 198.96 L412.00 198.50 L412.50 197.96 L413.00 197.30 L413.50 196.53 L414.00 195.69 L414.50 194.79 L415.00 193.86 L415.50 192.92 L416.00 192.00 L416.50 191.08 L417.00 190.09 L417.50 188.99 L418.00 187.74 L418.50 186.31 L419.00 184.64 L419.50 182.54 L420.00 180.00 L420.50 177.14 L421.00 174.09 L421.50 170.97 L422.00 167.90 L422.50 165.00 L423.00 162.21 L423.50 159.40 L424.00 156.59 L424.50 153.79 L425.00 151.00 L425.50 148.25 L426.00 145.54 L426.50 142.89 L427.00 140.30 L427.50 137.76 L428.00 135.24 L428.50 132.73 L429.00 130.20 L429.50 127.63 L430.00 125.00 L430.50 122.25 L431.00 119.39 L431.50 116.47 L432.00 113.55 L432.50 110.71 L433.00 107.99 L433.50 105.47 L434.00 103.14 L434.50 100.88 L435.00 98.67 L435.50 96.54 L436.00 94.47 L436.50 92.48 L437.00 90.57 L437.50 88.74 L438.00 86.99 L438.50 85.32 L439.00 83.72 L439.50 82.13 L440.00 80.61 L440.50 79.21 L441.00 77.99 L441.50 77.00 L442.00 76.14 L442.50 75.34 L443.00 74.65 L443.50 74.15 L444.00 73.90 L444.50 73.88 L445.00 74.01 L445.50 74.26 L446.00 74.61 L446.50 75.03 L447.00 75.50 L447.50 76.03 L448.00 76.66 L448.50 77.37 L449.00 78.17 L449.50 79.03 L450.00 79.97 L450.50 80.97 L451.00 82.03 L451.50 83.13 L452.00 84.29 L452.50 85.50 L453.00 86.92 L453.50 88.53 L454.00 90.24 L454.50 91.99 L455.00 93.71 L455.50 95.31 L456.00 96.87 L456.50 98.42 L457.00 99.96 L457.50 101.50 L458.00 103.03 L458.50 104.55 L459.00 106.07 L459.50 107.58 L460.00 109.08 L460.50 110.57 L461.00 112.06 L461.50 113.53 L462.00 115.00 L462.50 116.47 L463.00 117.95 L463.50 119.43 L464.00 120.92 L464.50 122.40 L465.00 123.88 L465.50 125.34 L466.00 126.78 L466.50 128.20 L467.00 129.59 L467.50 130.94 L468.00 132.26 L468.50 133.53 L469.00 134.76 L469.50 135.95 L470.00 137.11 L470.50 138.25 L471.00 139.37 L471.50 140.47 L472.00 141.54 L472.50 142.60 L473.00 143.63 L473.50 144.64 L474.00 145.62 L474.50 146.58 L475.00 147.51 L475.50 148.42 L476.00 149.31 L476.50 150.17 L477.00 151.02 L477.50 151.86 L478.00 152.68 L478.50 153.50 L479.00 154.30 L479.50 155.08 L480.00 155.85 L480.50 156.60 L481.00 157.33 L481.50 158.03 L482.00 158.72 L482.50 159.37 L483.00 160.00 L483.50 160.61 L484.00 161.22 L484.50 161.82 L485.00 162.42 L485.50 163.02 L486.00 163.60 L486.50 164.19 L487.00 164.77 L487.50 165.34 L488.00 165.91 L488.50 166.47 L489.00 167.03 L489.50 167.58 L490.00 168.13 L490.50 168.67 L491.00 169.20 L491.50 169.73 L492.00 170.25 L492.50 170.76 L493.00 171.27 L493.50 171.77 L494.00 172.27 L494.50 172.76 L495.00 173.24 L495.50 173.71 L496.00 174.18 L496.50 174.64 L497.00 175.09 L497.50 175.54 L498.00 175.98 L498.50 176.43 L499.00 176.86 L499.50 177.30 L500.00 177.73 L500.50 178.16 L501.00 178.59 L501.50 179.01 L502.00 179.43 L502.50 179.84 L503.00 180.25 L503.50 180.66 L504.00 181.06 L504.50 181.45 L505.00 181.85 L505.50 182.23 L506.00 182.61 L506.50 182.99 L507.00 183.36 L507.50 183.73 L508.00 184.09 L508.50 184.44 L509.00 184.79 L509.50 185.14 L510.00 185.48 L510.50 185.83 L511.00 186.18 L511.50 186.53 L512.00 186.88 L512.50 187.23 L513.00 187.58 L513.50 187.93 L514.00 188.28 L514.50 188.63 L515.00 188.99 L515.50 189.33 L516.00 189.68 L516.50 190.03 L517.00 190.37 L517.50 190.72 L518.00 191.06 L518.50 191.40 L519.00 191.73 L519.50 192.06 L520.00 192.39 L520.50 192.71 L521.00 193.03 L521.50 193.35 L522.00 193.66 L522.50 193.96 L523.00 194.26 L523.50 194.56 L524.00 194.85 L524.50 195.13 L525.00 195.41 L525.50 195.67 L526.00 195.94 L526.50 196.19 L527.00 196.44 L527.50 196.68 L528.00 196.91 L528.50 197.13 L529.00 197.34 L529.50 197.55 L530.00 197.74 L530.50 197.93 L531.00 198.11 L531.50 198.28 L532.00 198.45 L532.50 198.62 L533.00 198.79 L533.50 198.96 L534.00 199.13 L534.50 199.29 L535.00 199.45 L535.50 199.61 L536.00 199.77 L536.50 199.92 L537.00 200.07 L537.50 200.22 L538.00 200.37 L538.50 200.52 L539.00 200.66 L539.50 200.80 L540.00 200.93 L540.50 201.07 L541.00 201.20 L541.50 201.33 L542.00 201.45 L542.50 201.58 L543.00 201.70 L543.50 201.81 L544.00 201.92 L544.50 202.03 L545.00 202.14 L545.50 202.24 L546.00 202.34 L546.50 202.44 L547.00 202.53 L547.50 202.62 L548.00 202.70 L548.50 202.78 L549.00 202.86 L549.50 202.93 L550.00 203.00 L550.50 203.07 L551.00 203.13 L551.50 203.20 L552.00 203.27 L552.50 203.34 L553.00 203.41 L553.50 203.47 L554.00 203.54 L554.50 203.61 L555.00 203.68 L555.50 203.74 L556.00 203.81 L556.50 203.88 L557.00 203.94 L557.50 204.01 L558.00 204.07 L558.50 204.13 L559.00 204.20 L559.50 204.26 L560.00 204.32 L560.50 204.38 L561.00 204.44 L561.50 204.49 L562.00 204.55 L562.50 204.60 L563.00 204.66 L563.50 204.71 L564.00 204.76 L564.50 204.81 L565.00 204.85 L565.50 204.90 L566.00 204.94 L566.50 204.98 L567.00 205.02 L567.50 205.05 L568.00 205.09 L568.50 205.12 L569.00 205.15 L569.50 205.18 L570.00 205.20 L570.50 205.22 L571.00 205.25 L571.50 205.27 L572.00 205.29 L572.50 205.32 L573.00 205.34 L573.50 205.36 L574.00 205.39 L574.50 205.41 L575.00 205.43 L575.50 205.45 L576.00 205.48 L576.50 205.50 L577.00 205.52 L577.50 205.55 L578.00 205.57 L578.50 205.59 L579.00 205.61 L579.50 205.64 L580.00 205.66 L580.50 205.68 L581.00 205.70 L581.50 205.72 L582.00 205.74 L582.50 205.77 L583.00 205.79 L583.50 205.81 L584.00 205.83 L584.50 205.85 L585.00 205.87 L585.50 205.89 L586.00 205.91 L586.50 205.93 L587.00 205.95 L587.50 205.96 L588.00 205.98 L588.50 206.00 L589.00 206.02 L589.50 206.04 L590.00 206.05 L590.50 206.07 L591.00 206.09 L591.50 206.10 L592.00 206.12 L592.50 206.13 L593.00 206.15 L593.50 206.16 L594.00 206.17 L594.50 206.19 L595.00 206.20 L595.50 206.21 L596.00 206.22 L596.50 206.24 L597.00 206.25 L597.50 206.26 L598.00 206.27 L598.50 206.28 L599.00 206.28 L599.50 206.29 L600.00 206.30 L600.50 206.31 L601.00 206.31 L601.50 206.32 L602.00 206.33 L602.50 206.34 L603.00 206.34 L603.50 206.35 L604.00 206.36 L604.50 206.37 L605.00 206.38 L605.50 206.38 L606.00 206.39 L606.50 206.40 L607.00 206.40 L607.50 206.41 L608.00 206.42 L608.50 206.42 L609.00 206.43 L609.50 206.44 L610.00 206.44 L610.50 206.45 L611.00 206.46 L611.50 206.46 L612.00 206.47 L612.50 206.47 L613.00 206.48 L613.50 206.48 L614.00 206.48 L614.50 206.49 L615.00 206.49 L615.50 206.49 L616.00 206.50 L616.50 206.50 L617.00 206.50 L617.50 206.50 L618.00 206.50 L618.50 206.50 L619.00 206.50 L619.50 206.50"/>
<path d="M397.00 206.50 L397.50 206.39 L398.00 206.27 L398.50 206.13 L399.00 205.97 L399.50 205.81 L400.00 205.63 L400.50 205.44 L401.00 205.24 L401.50 205.03 L402.00 204.82 L402.50 204.60 L403.00 204.37 L403.50 204.15 L404.00 203.92 L404.50 203.69 L405.00 203.46 L405.50 203.23 L406.00 203.00 L406.50 202.77 L407.00 202.52 L407.50 202.25 L408.00 201.98 L408.50 201.68 L409.00 201.38 L409.50 201.06 L410.00 200.72 L410.50 200.38 L411.00 200.03 L411.50 199.66 L412.00 199.28 L412.50 198.90 L413.00 198.50 L413.50 198.06 L414.00 197.56 L414.50 197.00 L415.00 196.38 L415.50 195.72 L416.00 195.03 L416.50 194.30 L417.00 193.55 L417.50 192.78 L418.00 192.00 L418.50 191.17 L419.00 190.24 L419.50 189.23 L420.00 188.16 L420.50 187.05 L421.00 185.92 L421.50 184.77 L422.00 183.61 L422.50 182.43 L423.00 181.21 L423.50 179.97 L424.00 178.70 L424.50 177.39 L425.00 176.04 L425.50 174.65 L426.00 173.22 L426.50 171.75 L427.00 170.22 L427.50 168.65 L428.00 167.02 L428.50 165.34 L429.00 163.55 L429.50 161.53 L430.00 159.35 L430.50 157.05 L431.00 154.67 L431.50 152.27 L432.00 149.89 L432.50 147.59 L433.00 145.42 L433.50 143.33 L434.00 141.19 L434.50 139.03 L435.00 136.87 L435.50 134.72 L436.00 132.62 L436.50 130.59 L437.00 128.64 L437.50 126.81 L438.00 125.12 L438.50 123.59 L439.00 122.24 L439.50 121.06 L440.00 119.97 L440.50 118.98 L441.00 118.11 L441.50 117.37 L442.00 116.78 L442.50 116.34 L443.00 115.92 L443.50 115.51 L444.00 115.11 L444.50 114.75 L445.00 114.44 L445.50 114.18 L446.00 114.00 L446.50 113.91 L447.00 113.91 L447.50 114.01 L448.00 114.19 L448.50 114.43 L449.00 114.72 L449.50 115.06 L450.00 115.42 L450.50 115.80 L451.00 116.25 L451.50 116.85 L452.00 117.57 L452.50 118.39 L453.00 119.31 L453.50 120.30 L454.00 121.35 L454.50 122.46 L455.00 123.73 L455.50 125.17 L456.00 126.72 L456.50 128.35 L457.00 130.01 L457.50 131.65 L458.00 133.24 L458.50 134.72 L459.00 136.11 L459.50 137.50 L460.00 138.88 L460.50 140.25 L461.00 141.60 L461.50 142.93 L462.00 144.24 L462.50 145.51 L463.00 146.75 L463.50 147.95 L464.00 149.11 L464.50 150.22 L465.00 151.29 L465.50 152.34 L466.00 153.37 L466.50 154.36 L467.00 155.34 L467.50 156.28 L468.00 157.21 L468.50 158.11 L469.00 158.98 L469.50 159.83 L470.00 160.67 L470.50 161.49 L471.00 162.30 L471.50 163.08 L472.00 163.81 L472.50 164.50 L473.00 165.12 L473.50 165.71 L474.00 166.30 L474.50 166.87 L475.00 167.43 L475.50 167.99 L476.00 168.54 L476.50 169.07 L477.00 169.60 L477.50 170.12 L478.00 170.64 L478.50 171.14 L479.00 171.64 L479.50 172.13 L480.00 172.61 L480.50 173.08 L481.00 173.55 L481.50 174.01 L482.00 174.46 L482.50 174.91 L483.00 175.35 L483.50 175.80 L484.00 176.24 L484.50 176.69 L485.00 177.13 L485.50 177.57 L486.00 178.01 L486.50 178.45 L487.00 178.89 L487.50 179.32 L488.00 179.75 L488.50 180.17 L489.00 180.59 L489.50 181.00 L490.00 181.41 L490.50 181.80 L491.00 182.20 L491.50 182.58 L492.00 182.96 L492.50 183.32 L493.00 183.68 L493.50 184.03 L494.00 184.36 L494.50 184.69 L495.00 185.00 L495.50 185.31 L496.00 185.61 L496.50 185.92 L497.00 186.23 L497.50 186.53 L498.00 186.84 L498.50 187.14 L499.00 187.44 L499.50 187.75 L500.00 188.05 L500.50 188.35 L501.00 188.65 L501.50 188.94 L502.00 189.24 L502.50 189.53 L503.00 189.82 L503.50 190.11 L504.00 190.40 L504.50 190.69 L505.00 190.97 L505.50 191.25 L506.00 191.53 L506.50 191.80 L507.00 192.08 L507.50 192.35 L508.00 192.61 L508.50 192.88 L509.00 193.14 L509.50 193.39 L510.00 193.65 L510.50 193.90 L511.00 194.14 L511.50 194.38 L512.00 194.62 L512.50 194.85 L513.00 195.08 L513.50 195.31 L514.00 195.53 L514.50 195.75 L515.00 195.96 L515.50 196.16 L516.00 196.37 L516.50 196.56 L517.00 196.76 L517.50 196.94 L518.00 197.12 L518.50 197.30 L519.00 197.47 L519.50 197.63 L520.00 197.79 L520.50 197.94 L521.00 198.09 L521.50 198.23 L522.00 198.38 L522.50 198.53 L523.00 198.67 L523.50 198.82 L524.00 198.96 L524.50 199.10 L525.00 199.25 L525.50 199.39 L526.00 199.53 L526.50 199.67 L527.00 199.81 L527.50 199.95 L528.00 200.08 L528.50 200.22 L529.00 200.35 L529.50 200.48 L530.00 200.62 L530.50 200.75 L531.00 200.87 L531.50 201.00 L532.00 201.12 L532.50 201.25 L533.00 201.37 L533.50 201.49 L534.00 201.60 L534.50 201.72 L535.00 201.83 L535.50 201.94 L536.00 202.05 L536.50 202.15 L537.00 202.26 L537.50 202.36 L538.00 202.45 L538.50 202.55 L539.00 202.64 L539.50 202.73 L540.00 202.82 L540.50 202.90 L541.00 202.98 L541.50 203.06 L542.00 203.13 L542.50 203.20 L543.00 203.27 L543.50 203.33 L544.00 203.39 L544.50 203.45 L545.00 203.50 L545.50 203.55 L546.00 203.60 L546.50 203.65 L547.00 203.70 L547.50 203.75 L548.00 203.80 L548.50 203.86 L549.00 203.91 L549.50 203.96 L550.00 204.01 L550.50 204.06 L551.00 204.11 L551.50 204.16 L552.00 204.21 L552.50 204.25 L553.00 204.30 L553.50 204.35 L554.00 204.40 L554.50 204.45 L555.00 204.49 L555.50 204.54 L556.00 204.59 L556.50 204.63 L557.00 204.67 L557.50 204.72 L558.00 204.76 L558.50 204.80 L559.00 204.85 L559.50 204.89 L560.00 204.93 L560.50 204.96 L561.00 205.00 L561.50 205.04 L562.00 205.08 L562.50 205.11 L563.00 205.15 L563.50 205.18 L564.00 205.21 L564.50 205.24 L565.00 205.27 L565.50 205.30 L566.00 205.33 L566.50 205.35 L567.00 205.38 L567.50 205.40 L568.00 205.43 L568.50 205.45 L569.00 205.47 L569.50 205.48 L570.00 205.50 L570.50 205.52 L571.00 205.53 L571.50 205.55 L572.00 205.56 L572.50 205.58 L573.00 205.60 L573.50 205.61 L574.00 205.63 L574.50 205.64 L575.00 205.66 L575.50 205.67 L576.00 205.69 L576.50 205.71 L577.00 205.72 L577.50 205.74 L578.00 205.75 L578.50 205.77 L579.00 205.79 L579.50 205.80 L580.00 205.82 L580.50 205.83 L581.00 205.85 L581.50 205.86 L582.00 205.88 L582.50 205.90 L583.00 205.91 L583.50 205.93 L584.00 205.94 L584.50 205.96 L585.00 205.97 L585.50 205.99 L586.00 206.00 L586.50 206.02 L587.00 206.03 L587.50 206.05 L588.00 206.06 L588.50 206.07 L589.00 206.09 L589.50 206.10 L590.00 206.12 L590.50 206.13 L591.00 206.14 L591.50 206.16 L592.00 206.17 L592.50 206.18 L593.00 206.20 L593.50 206.21 L594.00 206.22 L594.50 206.23 L595.00 206.25 L595.50 206.26 L596.00 206.27 L596.50 206.28 L597.00 206.29 L597.50 206.30 L598.00 206.31 L598.50 206.32 L599.00 206.33 L599.50 206.34 L600.00 206.35 L600.50 206.36 L601.00 206.37 L601.50 206.38 L602.00 206.39 L602.50 206.40 L603.00 206.41 L603.50 206.42 L604.00 206.42 L604.50 206.43 L605.00 206.44 L605.50 206.45 L606.00 206.45 L606.50 206.46 L607.00 206.47 L607.50 206.47 L608.00 206.48 L608.50 206.48 L609.00 206.49 L609.50 206.49 L610.00 206.49 L610.50 206.50 L611.00 206.50 L611.50 206.51 L612.00 206.51 L612.50 206.51 L613.00 206.51 L613.50 206.51 L614.00 206.51 L614.50 206.52 L615.00 206.52 L615.50 206.52 L616.00 206.52 L616.50 206.51 L617.00 206.51 L617.50 206.51 L618.00 206.51 L618.50 206.51 L619.00 206.50 L619.50 206.50"/>
<path d="M397.00 206.50 L397.50 206.42 L398.00 206.32 L398.50 206.20 L399.00 206.08 L399.50 205.94 L400.00 205.79 L400.50 205.63 L401.00 205.46 L401.50 205.28 L402.00 205.09 L402.50 204.89 L403.00 204.69 L403.50 204.48 L404.00 204.27 L404.50 204.05 L405.00 203.83 L405.50 203.61 L406.00 203.39 L406.50 203.16 L407.00 202.94 L407.50 202.72 L408.00 202.50 L408.50 202.27 L409.00 202.03 L409.50 201.76 L410.00 201.49 L410.50 201.19 L411.00 200.88 L411.50 200.55 L412.00 200.21 L412.50 199.85 L413.00 199.48 L413.50 199.10 L414.00 198.70 L414.50 198.29 L415.00 197.87 L415.50 197.44 L416.00 197.00 L416.50 196.53 L417.00 196.01 L417.50 195.44 L418.00 194.83 L418.50 194.19 L419.00 193.51 L419.50 192.79 L420.00 192.05 L420.50 191.28 L421.00 190.50 L421.50 189.69 L422.00 188.87 L422.50 188.04 L423.00 187.20 L423.50 186.35 L424.00 185.51 L424.50 184.66 L425.00 183.77 L425.50 182.84 L426.00 181.87 L426.50 180.86 L427.00 179.83 L427.50 178.77 L428.00 177.70 L428.50 176.61 L429.00 175.52 L429.50 174.43 L430.00 173.34 L430.50 172.27 L431.00 171.21 L431.50 170.17 L432.00 169.15 L432.50 168.17 L433.00 167.23 L433.50 166.33 L434.00 165.48 L434.50 164.68 L435.00 163.91 L435.50 163.15 L436.00 162.41 L436.50 161.71 L437.00 161.05 L437.50 160.45 L438.00 159.90 L438.50 159.41 L439.00 159.00 L439.50 158.63 L440.00 158.26 L440.50 157.89 L441.00 157.55 L441.50 157.22 L442.00 156.93 L442.50 156.67 L443.00 156.45 L443.50 156.27 L444.00 156.15 L444.50 156.09 L445.00 156.07 L445.50 156.08 L446.00 156.12 L446.50 156.19 L447.00 156.29 L447.50 156.42 L448.00 156.58 L448.50 156.77 L449.00 156.98 L449.50 157.23 L450.00 157.50 L450.50 157.81 L451.00 158.16 L451.50 158.54 L452.00 158.95 L452.50 159.38 L453.00 159.84 L453.50 160.31 L454.00 160.80 L454.50 161.29 L455.00 161.79 L455.50 162.29 L456.00 162.78 L456.50 163.26 L457.00 163.73 L457.50 164.18 L458.00 164.63 L458.50 165.09 L459.00 165.55 L459.50 166.02 L460.00 166.49 L460.50 166.97 L461.00 167.45 L461.50 167.94 L462.00 168.42 L462.50 168.91 L463.00 169.41 L463.50 169.90 L464.00 170.39 L464.50 170.89 L465.00 171.39 L465.50 171.88 L466.00 172.38 L466.50 172.87 L467.00 173.37 L467.50 173.86 L468.00 174.35 L468.50 174.84 L469.00 175.33 L469.50 175.81 L470.00 176.29 L470.50 176.77 L471.00 177.24 L471.50 177.71 L472.00 178.17 L472.50 178.63 L473.00 179.08 L473.50 179.52 L474.00 179.96 L474.50 180.39 L475.00 180.82 L475.50 181.23 L476.00 181.64 L476.50 182.04 L477.00 182.43 L477.50 182.81 L478.00 183.18 L478.50 183.54 L479.00 183.89 L479.50 184.23 L480.00 184.56 L480.50 184.88 L481.00 185.18 L481.50 185.49 L482.00 185.78 L482.50 186.08 L483.00 186.38 L483.50 186.67 L484.00 186.96 L484.50 187.24 L485.00 187.53 L485.50 187.81 L486.00 188.09 L486.50 188.36 L487.00 188.64 L487.50 188.91 L488.00 189.17 L488.50 189.44 L489.00 189.70 L489.50 189.96 L490.00 190.21 L490.50 190.47 L491.00 190.72 L491.50 190.96 L492.00 191.21 L492.50 191.45 L493.00 191.69 L493.50 191.92 L494.00 192.15 L494.50 192.38 L495.00 192.61 L495.50 192.83 L496.00 193.05 L496.50 193.27 L497.00 193.48 L497.50 193.69 L498.00 193.90 L498.50 194.10 L499.00 194.30 L499.50 194.50 L500.00 194.69 L500.50 194.88 L501.00 195.07 L501.50 195.25 L502.00 195.43 L502.50 195.61 L503.00 195.78 L503.50 195.95 L504.00 196.12 L504.50 196.28 L505.00 196.44 L505.50 196.59 L506.00 196.75 L506.50 196.90 L507.00 197.04 L507.50 197.18 L508.00 197.32 L508.50 197.45 L509.00 197.58 L509.50 197.71 L510.00 197.83 L510.50 197.95 L511.00 198.07 L511.50 198.19 L512.00 198.30 L512.50 198.42 L513.00 198.54 L513.50 198.65 L514.00 198.77 L514.50 198.89 L515.00 199.00 L515.50 199.12 L516.00 199.23 L516.50 199.35 L517.00 199.47 L517.50 199.58 L518.00 199.69 L518.50 199.81 L519.00 199.92 L519.50 200.04 L520.00 200.15 L520.50 200.26 L521.00 200.37 L521.50 200.48 L522.00 200.59 L522.50 200.70 L523.00 200.80 L523.50 200.91 L524.00 201.02 L524.50 201.12 L525.00 201.22 L525.50 201.32 L526.00 201.42 L526.50 201.52 L527.00 201.62 L527.50 201.72 L528.00 201.81 L528.50 201.90 L529.00 202.00 L529.50 202.09 L530.00 202.17 L530.50 202.26 L531.00 202.35 L531.50 202.43 L532.00 202.51 L532.50 202.59 L533.00 202.66 L533.50 202.74 L534.00 202.81 L534.50 202.88 L535.00 202.95 L535.50 203.02 L536.00 203.08 L536.50 203.14 L537.00 203.20 L537.50 203.26 L538.00 203.31 L538.50 203.36 L539.00 203.41 L539.50 203.46 L540.00 203.50 L540.50 203.54 L541.00 203.58 L541.50 203.63 L542.00 203.67 L542.50 203.71 L543.00 203.75 L543.50 203.79 L544.00 203.84 L544.50 203.88 L545.00 203.92 L545.50 203.96 L546.00 204.00 L546.50 204.04 L547.00 204.08 L547.50 204.13 L548.00 204.17 L548.50 204.21 L549.00 204.25 L549.50 204.29 L550.00 204.33 L550.50 204.37 L551.00 204.41 L551.50 204.45 L552.00 204.48 L552.50 204.52 L553.00 204.56 L553.50 204.60 L554.00 204.64 L554.50 204.67 L555.00 204.71 L555.50 204.74 L556.00 204.78 L556.50 204.81 L557.00 204.85 L557.50 204.88 L558.00 204.92 L558.50 204.95 L559.00 204.98 L559.50 205.01 L560.00 205.04 L560.50 205.07 L561.00 205.10 L561.50 205.13 L562.00 205.16 L562.50 205.19 L563.00 205.21 L563.50 205.24 L564.00 205.27 L564.50 205.29 L565.00 205.31 L565.50 205.34 L566.00 205.36 L566.50 205.38 L567.00 205.40 L567.50 205.42 L568.00 205.44 L568.50 205.45 L569.00 205.47 L569.50 205.49 L570.00 205.50 L570.50 205.51 L571.00 205.53 L571.50 205.54 L572.00 205.56 L572.50 205.57 L573.00 205.58 L573.50 205.60 L574.00 205.61 L574.50 205.63 L575.00 205.64 L575.50 205.66 L576.00 205.67 L576.50 205.69 L577.00 205.70 L577.50 205.71 L578.00 205.73 L578.50 205.74 L579.00 205.76 L579.50 205.77 L580.00 205.79 L580.50 205.80 L581.00 205.82 L581.50 205.83 L582.00 205.84 L582.50 205.86 L583.00 205.87 L583.50 205.89 L584.00 205.90 L584.50 205.92 L585.00 205.93 L585.50 205.94 L586.00 205.96 L586.50 205.97 L587.00 205.99 L587.50 206.00 L588.00 206.01 L588.50 206.03 L589.00 206.04 L589.50 206.05 L590.00 206.07 L590.50 206.08 L591.00 206.09 L591.50 206.11 L592.00 206.12 L592.50 206.13 L593.00 206.14 L593.50 206.16 L594.00 206.17 L594.50 206.18 L595.00 206.19 L595.50 206.20 L596.00 206.22 L596.50 206.23 L597.00 206.24 L597.50 206.25 L598.00 206.26 L598.50 206.27 L599.00 206.28 L599.50 206.29 L600.00 206.30 L600.50 206.31 L601.00 206.32 L601.50 206.33 L602.00 206.34 L602.50 206.35 L603.00 206.36 L603.50 206.37 L604.00 206.38 L604.50 206.38 L605.00 206.39 L605.50 206.40 L606.00 206.41 L606.50 206.42 L607.00 206.42 L607.50 206.43 L608.00 206.44 L608.50 206.44 L609.00 206.45 L609.50 206.45 L610.00 206.46 L610.50 206.46 L611.00 206.47 L611.50 206.47 L612.00 206.48 L612.50 206.48 L613.00 206.48 L613.50 206.49 L614.00 206.49 L614.50 206.49 L615.00 206.50 L615.50 206.50 L616.00 206.50 L616.50 206.50 L617.00 206.50 L617.50 206.50 L618.00 206.50 L618.50 206.50 L619.00 206.50 L619.50 206.50"/>
<path d="M397.00 206.50 L397.50 206.41 L398.00 206.32 L398.50 206.22 L399.00 206.12 L399.50 206.02 L400.00 205.92 L400.50 205.82 L401.00 205.71 L401.50 205.61 L402.00 205.50 L402.50 205.39 L403.00 205.28 L403.50 205.16 L404.00 205.05 L404.50 204.93 L405.00 204.81 L405.50 204.70 L406.00 204.58 L406.50 204.46 L407.00 204.34 L407.50 204.21 L408.00 204.09 L408.50 203.97 L409.00 203.85 L409.50 203.72 L410.00 203.60 L410.50 203.48 L411.00 203.35 L411.50 203.22 L412.00 203.10 L412.50 202.97 L413.00 202.84 L413.50 202.70 L414.00 202.57 L414.50 202.44 L415.00 202.30 L415.50 202.16 L416.00 202.02 L416.50 201.88 L417.00 201.74 L417.50 201.60 L418.00 201.45 L418.50 201.30 L419.00 201.15 L419.50 201.00 L420.00 200.85 L420.50 200.69 L421.00 200.53 L421.50 200.38 L422.00 200.21 L422.50 200.05 L423.00 199.88 L423.50 199.72 L424.00 199.55 L424.50 199.37 L425.00 199.20 L425.50 199.02 L426.00 198.83 L426.50 198.64 L427.00 198.44 L427.50 198.23 L428.00 198.02 L428.50 197.80 L429.00 197.58 L429.50 197.36 L430.00 197.13 L430.50 196.90 L431.00 196.67 L431.50 196.45 L432.00 196.22 L432.50 195.99 L433.00 195.77 L433.50 195.54 L434.00 195.33 L434.50 195.11 L435.00 194.90 L435.50 194.69 L436.00 194.46 L436.50 194.23 L437.00 194.00 L437.50 193.78 L438.00 193.56 L438.50 193.36 L439.00 193.18 L439.50 193.03 L440.00 192.90 L440.50 192.79 L441.00 192.69 L441.50 192.59 L442.00 192.50 L442.50 192.41 L443.00 192.33 L443.50 192.26 L444.00 192.21 L444.50 192.16 L445.00 192.12 L445.50 192.10 L446.00 192.09 L446.50 192.10 L447.00 192.12 L447.50 192.14 L448.00 192.17 L448.50 192.20 L449.00 192.24 L449.50 192.29 L450.00 192.33 L450.50 192.39 L451.00 192.44 L451.50 192.50 L452.00 192.57 L452.50 192.63 L453.00 192.70 L453.50 192.77 L454.00 192.85 L454.50 192.93 L455.00 193.02 L455.50 193.11 L456.00 193.20 L456.50 193.30 L457.00 193.40 L457.50 193.50 L458.00 193.60 L458.50 193.70 L459.00 193.80 L459.50 193.90 L460.00 194.00 L460.50 194.10 L461.00 194.20 L461.50 194.30 L462.00 194.41 L462.50 194.51 L463.00 194.62 L463.50 194.73 L464.00 194.83 L464.50 194.94 L465.00 195.05 L465.50 195.16 L466.00 195.27 L466.50 195.38 L467.00 195.49 L467.50 195.60 L468.00 195.71 L468.50 195.82 L469.00 195.93 L469.50 196.04 L470.00 196.14 L470.50 196.25 L471.00 196.35 L471.50 196.45 L472.00 196.55 L472.50 196.65 L473.00 196.74 L473.50 196.84 L474.00 196.93 L474.50 197.01 L475.00 197.10 L475.50 197.18 L476.00 197.26 L476.50 197.34 L477.00 197.42 L477.50 197.50 L478.00 197.57 L478.50 197.65 L479.00 197.72 L479.50 197.79 L480.00 197.86 L480.50 197.93 L481.00 197.99 L481.50 198.06 L482.00 198.12 L482.50 198.19 L483.00 198.25 L483.50 198.31 L484.00 198.38 L484.50 198.44 L485.00 198.50 L485.50 198.56 L486.00 198.62 L486.50 198.68 L487.00 198.74 L487.50 198.80 L488.00 198.86 L488.50 198.92 L489.00 198.97 L489.50 199.03 L490.00 199.09 L490.50 199.14 L491.00 199.20 L491.50 199.26 L492.00 199.31 L492.50 199.37 L493.00 199.43 L493.50 199.48 L494.00 199.54 L494.50 199.59 L495.00 199.65 L495.50 199.70 L496.00 199.76 L496.50 199.81 L497.00 199.87 L497.50 199.92 L498.00 199.98 L498.50 200.03 L499.00 200.09 L499.50 200.14 L500.00 200.20 L500.50 200.26 L501.00 200.31 L501.50 200.37 L502.00 200.42 L502.50 200.48 L503.00 200.54 L503.50 200.60 L504.00 200.65 L504.50 200.71 L505.00 200.77 L505.50 200.82 L506.00 200.88 L506.50 200.94 L507.00 201.00 L507.50 201.05 L508.00 201.11 L508.50 201.17 L509.00 201.22 L509.50 201.28 L510.00 201.34 L510.50 201.39 L511.00 201.45 L511.50 201.51 L512.00 201.56 L512.50 201.62 L513.00 201.67 L513.50 201.73 L514.00 201.78 L514.50 201.84 L515.00 201.89 L515.50 201.94 L516.00 202.00 L516.50 202.05 L517.00 202.10 L517.50 202.15 L518.00 202.20 L518.50 202.25 L519.00 202.30 L519.50 202.35 L520.00 202.40 L520.50 202.45 L521.00 202.50 L521.50 202.54 L522.00 202.59 L522.50 202.64 L523.00 202.69 L523.50 202.74 L524.00 202.79 L524.50 202.83 L525.00 202.88 L525.50 202.93 L526.00 202.98 L526.50 203.03 L527.00 203.07 L527.50 203.12 L528.00 203.17 L528.50 203.21 L529.00 203.26 L529.50 203.31 L530.00 203.35 L530.50 203.40 L531.00 203.44 L531.50 203.49 L532.00 203.53 L532.50 203.58 L533.00 203.62 L533.50 203.66 L534.00 203.71 L534.50 203.75 L535.00 203.79 L535.50 203.83 L536.00 203.87 L536.50 203.91 L537.00 203.95 L537.50 203.99 L538.00 204.03 L538.50 204.07 L539.00 204.11 L539.50 204.14 L540.00 204.18 L540.50 204.21 L541.00 204.25 L541.50 204.28 L542.00 204.32 L542.50 204.35 L543.00 204.38 L543.50 204.41 L544.00 204.44 L544.50 204.47 L545.00 204.50 L545.50 204.53 L546.00 204.56 L546.50 204.58 L547.00 204.61 L547.50 204.64 L548.00 204.67 L548.50 204.69 L549.00 204.72 L549.50 204.75 L550.00 204.78 L550.50 204.80 L551.00 204.83 L551.50 204.86 L552.00 204.88 L552.50 204.91 L553.00 204.94 L553.50 204.96 L554.00 204.99 L554.50 205.02 L555.00 205.04 L555.50 205.07 L556.00 205.09 L556.50 205.12 L557.00 205.14 L557.50 205.17 L558.00 205.19 L558.50 205.22 L559.00 205.24 L559.50 205.27 L560.00 205.29 L560.50 205.32 L561.00 205.34 L561.50 205.36 L562.00 205.39 L562.50 205.41 L563.00 205.43 L563.50 205.45 L564.00 205.48 L564.50 205.50 L565.00 205.52 L565.50 205.54 L566.00 205.56 L566.50 205.58 L567.00 205.60 L567.50 205.62 L568.00 205.64 L568.50 205.66 L569.00 205.68 L569.50 205.70 L570.00 205.72 L570.50 205.73 L571.00 205.75 L571.50 205.77 L572.00 205.79 L572.50 205.80 L573.00 205.82 L573.50 205.83 L574.00 205.85 L574.50 205.86 L575.00 205.88 L575.50 205.89 L576.00 205.91 L576.50 205.92 L577.00 205.93 L577.50 205.94 L578.00 205.96 L578.50 205.97 L579.00 205.98 L579.50 205.99 L580.00 206.00 L580.50 206.01 L581.00 206.02 L581.50 206.03 L582.00 206.04 L582.50 206.05 L583.00 206.06 L583.50 206.07 L584.00 206.08 L584.50 206.09 L585.00 206.10 L585.50 206.11 L586.00 206.12 L586.50 206.13 L587.00 206.14 L587.50 206.15 L588.00 206.16 L588.50 206.17 L589.00 206.18 L589.50 206.18 L590.00 206.19 L590.50 206.20 L591.00 206.21 L591.50 206.22 L592.00 206.23 L592.50 206.24 L593.00 206.25 L593.50 206.26 L594.00 206.27 L594.50 206.27 L595.00 206.28 L595.50 206.29 L596.00 206.30 L596.50 206.31 L597.00 206.31 L597.50 206.32 L598.00 206.33 L598.50 206.34 L599.00 206.35 L599.50 206.35 L600.00 206.36 L600.50 206.37 L601.00 206.37 L601.50 206.38 L602.00 206.39 L602.50 206.39 L603.00 206.40 L603.50 206.41 L604.00 206.41 L604.50 206.42 L605.00 206.42 L605.50 206.43 L606.00 206.44 L606.50 206.44 L607.00 206.45 L607.50 206.45 L608.00 206.45 L608.50 206.46 L609.00 206.46 L609.50 206.47 L610.00 206.47 L610.50 206.47 L611.00 206.48 L611.50 206.48 L612.00 206.48 L612.50 206.49 L613.00 206.49 L613.50 206.49 L614.00 206.49 L614.50 206.50 L615.00 206.50 L615.50 206.50 L616.00 206.50 L616.50 206.50 L617.00 206.50 L617.50 206.50 L618.00 206.50 L618.50 206.50 L619.00 206.50 L619.50 206.50"/>
</g>
<g fill="none" stroke="#6a6a6a" stroke-width="1.2">
<rect x="83.6" y="17.6" width="223.9" height="190.5"/>
<rect x="396.6" y="17.5" width="223.0" height="190.0"/>
<line x1="121.5" y1="208" x2="121.5" y2="212.6"/>
<line x1="196.3" y1="208" x2="196.3" y2="212.6"/>
<line x1="270.3" y1="208" x2="270.3" y2="212.6"/>
<line x1="430.9" y1="207.5" x2="430.9" y2="211.8"/>
<line x1="494.5" y1="207.5" x2="494.5" y2="211.8"/>
<line x1="557.4" y1="207.5" x2="557.4" y2="211.8"/>
<line x1="619.6" y1="207.5" x2="619.6" y2="211.8"/>
</g>
<g stroke="#333" stroke-width="1">
<line x1="252.9" y1="31.2" x2="259.2" y2="33.4"/>
<line x1="249.2" y1="55.7" x2="255.8" y2="57.5"/>
<line x1="245.2" y1="77.5" x2="255.0" y2="79.0"/>
<line x1="243.3" y1="99.4" x2="252.9" y2="100.8"/>
<line x1="239.1" y1="122.9" x2="252.3" y2="127.0"/>
<line x1="233.9" y1="137.8" x2="247.2" y2="142.1"/>
<line x1="447.2" y1="47.0" x2="457.5" y2="43.2"/>
<line x1="446.4" y1="75.0" x2="464.7" y2="68.6"/>
</g>
<g font-family="'Liberation Sans', sans-serif" fill="#222222">
<text x="90.3" y="34.1" font-size="12.5" text-anchor="start">A</text>
<text x="402.3" y="34.1" font-size="12.5" text-anchor="start">B</text>
<text x="249.0" y="35.0" font-size="10" text-anchor="end">pH 9.0</text>
<text x="247.2" y="58.6" font-size="10" text-anchor="end">8.0</text>
<text x="243.1" y="80.4" font-size="10" text-anchor="end">7.0</text>
<text x="241.2" y="102.8" font-size="10" text-anchor="end">6.5</text>
<text x="237.0" y="125.1" font-size="10" text-anchor="end">6.0</text>
<text x="231.4" y="140.6" font-size="10" text-anchor="end">5.0</text>
<text x="428.8" y="38.3" font-size="10" text-anchor="start">pH 9.0</text>
<text x="460.8" y="46.4" font-size="10" text-anchor="start">8.0</text>
<text x="467.7" y="70.9" font-size="10" text-anchor="start">7.0</text>
<text x="438.8" y="111.3" font-size="10" text-anchor="start">6.5</text>
<text x="437.8" y="153.5" font-size="10" text-anchor="start">6.0</text>
<text x="439.4" y="188.4" font-size="10" text-anchor="start">5.0</text>
<text x="553.7" y="35.2" font-size="10" text-anchor="start">Ex = 488 nm</text>
<text x="121.8" y="224.0" font-size="10" text-anchor="middle">300</text>
<text x="196.2" y="224.0" font-size="10" text-anchor="middle">400</text>
<text x="270.3" y="224.0" font-size="10" text-anchor="middle">500</text>
<text x="431.3" y="226.0" font-size="10" text-anchor="middle">500</text>
<text x="495.5" y="226.0" font-size="10" text-anchor="middle">550</text>
<text x="557.4" y="226.0" font-size="10" text-anchor="middle">600</text>
<text x="619.6" y="226.0" font-size="10" text-anchor="middle">650</text>
<text x="194.6" y="242.6" font-size="13" text-anchor="middle">Wavelength (nm)</text>
<text x="507.2" y="243.2" font-size="13" text-anchor="middle">Wavelength (nm)</text>
<text transform="translate(74 112) rotate(-90)" font-size="13" text-anchor="middle">Absorption</text>
<text transform="translate(386 113.4) rotate(-90)" font-size="13.1" text-anchor="middle">Fluorescence emission</text>
</g>
</svg>
</body></html>
